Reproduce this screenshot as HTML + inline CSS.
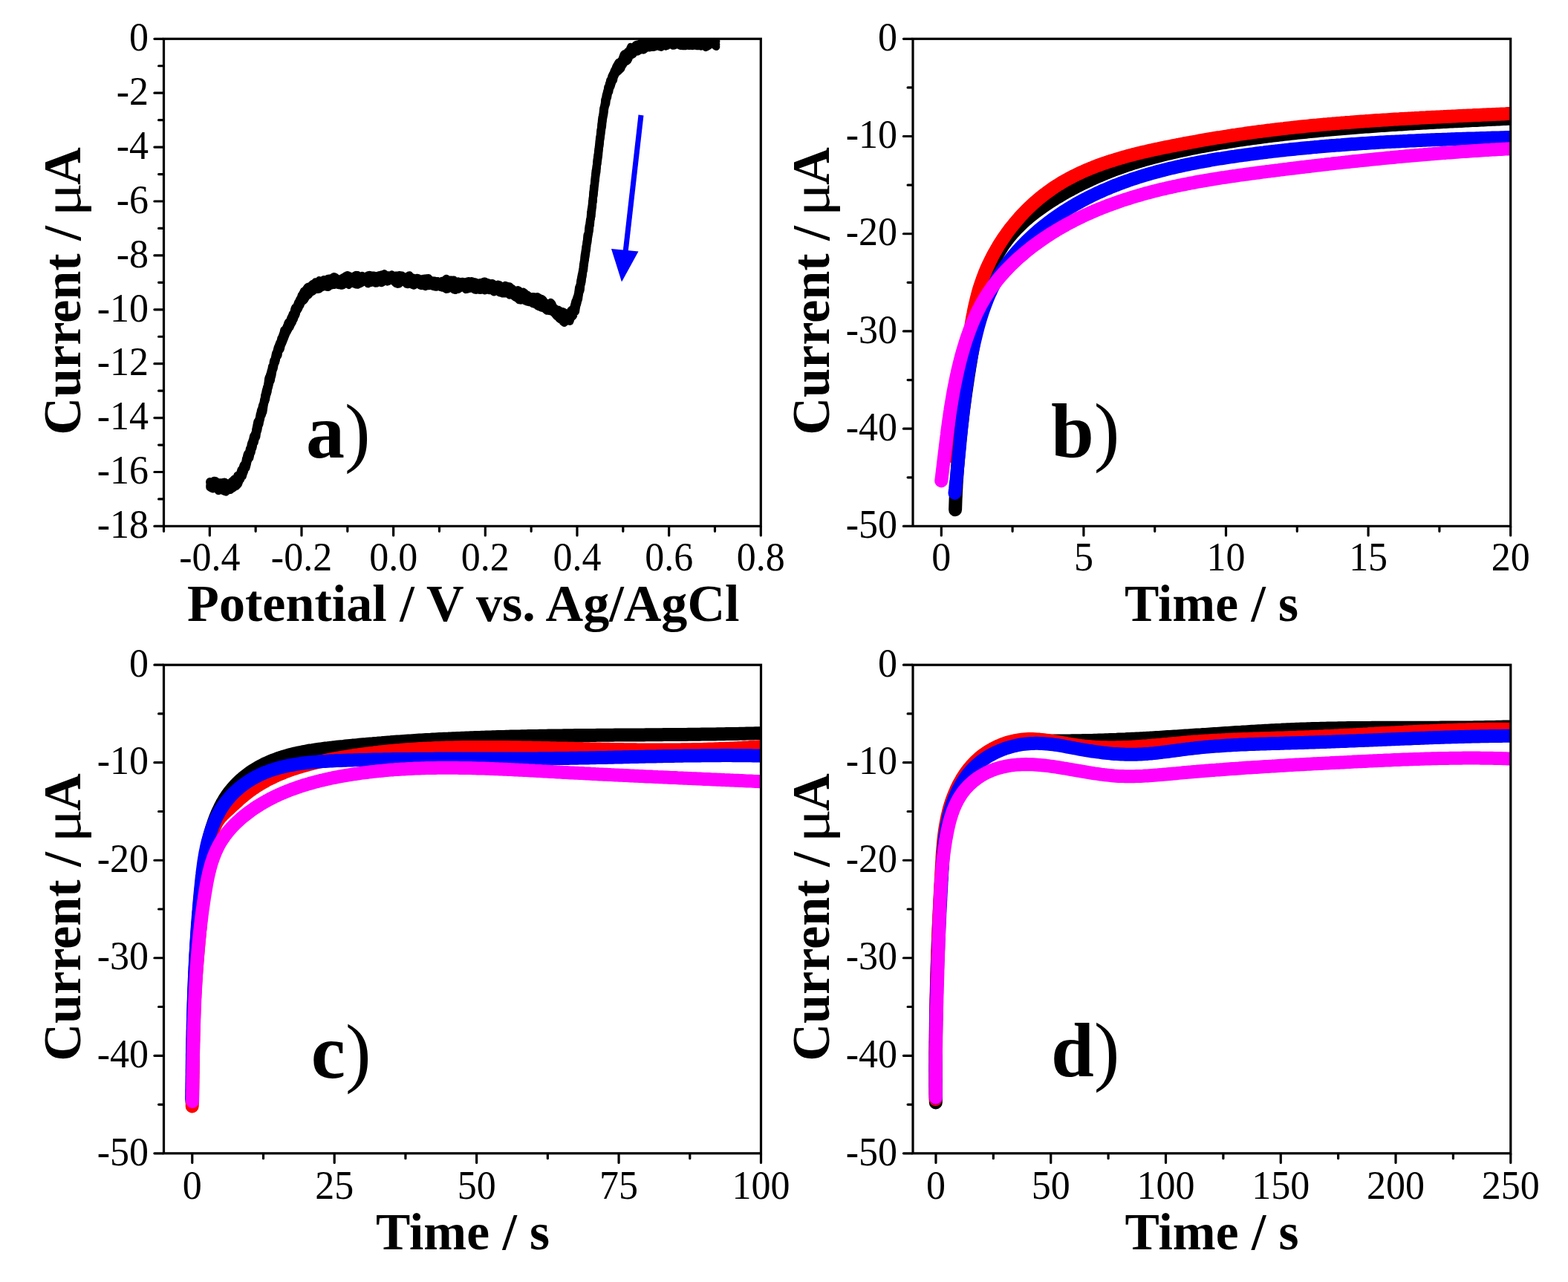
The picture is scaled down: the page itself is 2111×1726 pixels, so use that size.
<!DOCTYPE html>
<html lang="en">
<head>
<meta charset="utf-8">
<title>Figure</title>
<style>
html,body{margin:0;padding:0;background:#fff;}
body{width:2111px;height:1726px;overflow:hidden;}
svg{display:block;}
svg text{font-family:'Liberation Serif', 'Times New Roman', serif;fill:#000;}
.tk{font-size:52.5px;}
.tt{font-size:70px;font-weight:bold;}
.pl{font-size:104px;font-weight:bold;}
.mu,.pr{font-weight:normal;}
.ax{stroke:#000;stroke-width:3.2;fill:none;stroke-linecap:butt;}
.cv{fill:none;stroke-linejoin:round;stroke-linecap:round;}
</style>
</head>
<body>
<svg width="2111" height="1726" viewBox="0 0 2111 1726">
<rect x="0" y="0" width="2111" height="1726" fill="#ffffff"/>
<g id="panel-a">
<defs><clipPath id="clip-a"><rect x="220.5" y="52.3" width="803.8" height="656.1"/></clipPath></defs>
<g clip-path="url(#clip-a)">
<path class="cv" d="M282.5,648.2 L284.4,649.2 L286.3,648.4 L288.2,647.0 L290.2,647.2 L292.1,648.9 L294.1,649.3 L296.1,649.4 L298.1,649.5 L300.1,649.8 L302.1,648.7 L304.1,649.8 L306.1,651.5 L308.0,651.9 L310.0,650.6 L311.8,648.2 L313.6,646.8 L315.3,644.7 L316.8,644.7 L318.2,643.6 L319.5,640.3 L320.7,639.4 L321.8,640.1 L322.9,638.7 L323.9,634.9 L324.8,632.3 L325.7,631.9 L326.5,630.5 L327.4,627.5 L328.2,625.7 L329.0,625.1 L329.7,625.1 L330.5,621.6 L331.2,617.5 L331.9,616.0 L332.6,612.6 L333.3,610.7 L334.0,610.0 L334.7,609.8 L335.3,608.7 L336.0,604.5 L336.6,603.2 L337.3,602.4 L337.9,598.5 L338.5,596.4 L339.1,595.4 L339.7,593.3 L340.3,591.9 L340.9,588.8 L341.4,586.7 L342.0,587.5 L342.5,586.5 L343.0,584.7 L343.6,583.0 L344.1,581.4 L344.6,577.5 L345.1,575.1 L345.7,572.5 L346.2,569.3 L346.7,567.4 L347.3,566.8 L347.8,567.7 L348.4,564.7 L348.9,563.1 L349.4,560.8 L349.9,557.5 L350.5,556.3 L351.0,553.3 L351.5,551.6 L352.0,552.2 L352.6,549.1 L353.1,546.3 L353.6,545.1 L354.1,543.9 L354.6,542.5 L355.1,539.6 L355.5,537.8 L356.0,535.5 L356.5,531.8 L357.0,530.8 L357.5,528.9 L357.9,526.0 L358.4,525.7 L358.9,522.9 L359.4,520.5 L359.9,520.3 L360.4,518.2 L360.8,514.5 L361.3,510.2 L361.8,508.1 L362.3,508.2 L362.8,506.6 L363.3,504.4 L363.8,503.2 L364.3,501.6 L364.8,499.2 L365.3,498.4 L365.8,495.8 L366.3,493.0 L366.8,493.7 L367.4,492.7 L367.9,487.9 L368.5,485.1 L369.0,484.8 L369.6,484.0 L370.1,481.7 L370.7,478.3 L371.3,475.6 L371.9,474.7 L372.5,473.7 L373.1,470.8 L373.7,468.5 L374.4,466.7 L375.0,465.6 L375.7,463.4 L376.4,461.4 L377.0,460.8 L377.8,458.9 L378.5,455.6 L379.2,454.5 L380.0,452.8 L380.8,450.2 L381.6,448.3 L382.4,444.6 L383.3,443.6 L384.1,443.6 L385.0,441.5 L385.9,439.7 L386.8,437.4 L387.6,434.8 L388.5,433.4 L389.4,433.8 L390.3,432.9 L391.2,429.0 L392.1,427.0 L393.0,425.3 L393.9,422.6 L394.8,422.0 L395.7,420.1 L396.5,416.1 L397.3,414.0 L398.1,413.7 L398.9,412.7 L399.7,411.8 L400.5,409.3 L401.4,407.0 L402.2,406.2 L403.1,403.7 L404.0,402.2 L404.9,401.0 L405.8,397.8 L406.8,396.5 L407.9,394.5 L409.0,392.0 L410.2,391.4 L411.4,390.2 L412.8,388.1 L414.2,386.3 L415.8,385.6 L417.5,385.4 L419.2,383.8 L421.0,382.1 L422.8,381.7 L424.6,379.6 L426.4,381.3 L428.3,381.6 L430.1,377.4 L432.0,378.0 L433.9,377.8 L435.9,376.4 L437.8,377.6 L439.8,376.3 L441.8,374.9 L443.7,374.7 L445.7,374.7 L447.7,373.5 L449.7,372.3 L451.7,373.3 L453.7,375.0 L455.6,375.4 L457.6,375.8 L459.6,375.6 L461.6,373.5 L463.6,372.7 L465.6,371.2 L467.6,370.3 L469.6,371.0 L471.6,371.8 L473.6,373.1 L475.6,372.2 L477.6,371.0 L479.5,370.1 L481.5,370.3 L483.5,371.7 L485.5,372.1 L487.5,371.1 L489.5,372.3 L491.5,373.9 L493.5,372.0 L495.5,370.4 L497.5,370.1 L499.5,370.6 L501.5,370.7 L503.5,370.8 L505.5,371.3 L507.5,371.8 L509.5,371.9 L511.5,370.5 L513.5,369.7 L515.5,369.3 L517.4,368.4 L519.4,370.3 L521.4,370.5 L523.4,370.6 L525.4,370.9 L527.4,369.6 L529.4,371.0 L531.4,371.1 L533.4,370.7 L535.4,370.8 L537.4,370.3 L539.3,370.6 L541.3,370.7 L543.3,372.4 L545.3,373.1 L547.3,373.4 L549.3,371.5 L551.2,370.4 L553.2,373.4 L555.2,373.4 L557.2,374.1 L559.2,375.1 L561.2,374.1 L563.2,374.2 L565.1,377.0 L567.1,377.1 L569.1,375.2 L571.1,374.8 L573.1,374.9 L575.1,374.4 L577.1,374.3 L579.1,377.7 L581.1,378.9 L583.1,377.6 L585.0,377.8 L587.0,379.0 L589.0,378.7 L591.0,379.0 L593.0,379.6 L595.0,378.1 L597.0,378.8 L599.0,376.7 L601.0,374.9 L603.0,377.2 L605.0,377.1 L607.0,376.8 L609.0,377.1 L611.0,376.8 L613.0,379.7 L615.0,380.9 L617.0,378.6 L619.0,379.3 L621.0,379.3 L623.0,379.0 L625.0,379.6 L627.0,380.3 L629.0,378.9 L631.0,378.3 L633.0,379.7 L635.0,378.2 L637.0,379.1 L639.0,379.4 L641.0,380.0 L643.0,381.2 L645.0,380.6 L647.0,380.3 L648.9,380.7 L650.9,379.2 L652.9,378.7 L654.9,379.9 L656.9,380.3 L658.9,381.1 L660.9,381.6 L662.9,381.2 L664.8,382.6 L666.8,385.6 L668.8,384.3 L670.7,382.7 L672.7,383.6 L674.6,385.2 L676.5,387.1 L678.4,385.6 L680.3,384.1 L682.2,384.9 L684.1,385.2 L686.0,385.4 L687.8,387.3 L689.7,388.4 L691.6,390.1 L693.5,392.5 L695.3,391.1 L697.2,390.2 L699.0,391.3 L700.9,394.1 L702.8,394.6 L704.6,392.9 L706.5,394.3 L708.4,396.6 L710.2,396.8 L712.1,398.5 L714.0,399.9 L715.9,399.5 L717.8,399.2 L719.7,399.4 L721.6,400.6 L723.5,399.4 L725.4,400.5 L727.2,401.6 L729.1,402.1 L730.9,403.2 L732.7,405.8 L734.5,408.2 L736.3,408.1 L738.1,409.6 L739.8,408.7 L741.5,407.1 L743.2,409.0 L744.8,412.9 L746.4,414.4 L748.0,415.5 L749.6,417.4 L751.2,416.7 L752.8,417.3 L754.4,421.5 L756.1,421.9 L757.8,419.4 L759.7,420.4 L761.7,422.1 L763.7,422.5 L765.5,421.5 L767.2,420.2 L768.7,417.7 L769.9,416.8 L771.0,418.3 L771.9,416.9 L772.8,412.5 L773.6,409.8 L774.3,406.7 L774.9,404.8 L775.5,405.3 L776.0,402.3 L776.5,400.7 L777.0,399.7 L777.5,398.3 L777.9,396.3 L778.4,393.8 L778.9,390.1 L779.3,387.0 L779.7,386.2 L780.1,385.5 L780.5,384.0 L780.9,383.0 L781.2,380.3 L781.6,376.9 L782.0,375.9 L782.3,373.9 L782.7,372.1 L783.0,369.9 L783.4,368.7 L783.7,366.9 L784.1,364.7 L784.4,363.0 L784.7,361.3 L785.0,358.2 L785.3,355.4 L785.6,354.2 L785.9,352.0 L786.2,351.4 L786.5,348.3 L786.8,344.2 L787.1,342.3 L787.4,341.7 L787.7,338.9 L788.0,336.8 L788.3,335.3 L788.6,332.3 L788.9,331.1 L789.1,330.4 L789.4,328.2 L789.7,325.5 L790.0,324.0 L790.2,322.2 L790.5,318.0 L790.8,315.9 L791.1,316.3 L791.4,315.6 L791.7,315.3 L792.0,312.9 L792.3,309.3 L792.6,305.9 L792.9,303.9 L793.2,303.4 L793.5,302.5 L793.8,299.1 L794.1,296.2 L794.4,295.7 L794.6,295.1 L794.9,292.6 L795.2,288.6 L795.4,285.8 L795.7,284.0 L795.9,282.0 L796.2,281.1 L796.4,280.5 L796.6,278.5 L796.9,276.6 L797.1,273.6 L797.3,270.9 L797.6,269.0 L797.8,266.7 L798.0,266.1 L798.2,264.1 L798.5,259.4 L798.7,257.3 L798.9,256.3 L799.1,253.2 L799.3,251.1 L799.6,251.3 L799.8,251.4 L800.0,248.1 L800.2,245.6 L800.4,245.0 L800.7,241.2 L800.9,238.2 L801.1,237.1 L801.3,235.3 L801.6,232.0 L801.8,229.6 L802.1,229.9 L802.3,229.2 L802.5,227.9 L802.8,224.6 L803.0,222.6 L803.3,221.5 L803.5,216.7 L803.7,214.8 L804.0,213.7 L804.2,211.5 L804.5,209.8 L804.7,208.4 L805.0,206.7 L805.2,203.4 L805.5,202.0 L805.7,200.5 L806.0,197.4 L806.2,196.2 L806.5,194.3 L806.7,190.6 L807.0,188.6 L807.2,185.9 L807.5,183.9 L807.7,184.7 L807.9,182.4 L808.2,178.9 L808.4,176.7 L808.7,174.2 L808.9,174.4 L809.1,173.7 L809.4,169.9 L809.6,167.2 L809.9,165.0 L810.1,162.4 L810.4,160.3 L810.6,158.2 L810.9,157.3 L811.2,156.6 L811.5,154.8 L811.8,152.1 L812.1,148.6 L812.4,146.7 L812.7,145.1 L813.0,143.9 L813.4,143.2 L813.7,141.1 L814.1,138.4 L814.4,134.3 L814.8,133.4 L815.2,134.0 L815.6,130.0 L816.1,127.1 L816.5,127.4 L816.9,124.4 L817.4,123.0 L817.9,121.7 L818.4,117.3 L819.0,116.9 L819.5,116.1 L820.1,112.5 L820.8,111.1 L821.4,108.1 L822.1,107.0 L822.8,106.1 L823.5,102.9 L824.2,101.4 L825.0,99.7 L825.8,98.9 L826.6,96.1 L827.5,94.2 L828.4,92.9 L829.4,89.9 L830.4,88.2 L831.5,86.2 L832.6,84.1 L833.7,84.1 L834.9,83.0 L836.1,81.6 L837.3,80.5 L838.5,77.1 L839.8,73.5 L841.0,72.3 L842.3,72.6 L843.6,71.7 L845.0,69.3 L846.4,68.7 L847.8,66.5 L849.3,63.2 L850.8,63.6 L852.4,65.3 L854.1,64.4 L855.7,60.5 L857.4,59.7 L859.2,60.1 L861.0,59.5 L862.8,57.7 L864.6,55.5 L866.5,55.3 L868.4,55.7 L870.4,56.4 L872.3,57.4 L874.3,55.0 L876.2,52.4 L878.2,52.7 L880.2,52.6 L882.2,52.9 L884.2,53.3 L886.2,52.9 L888.2,53.5 L890.2,53.1 L892.1,51.0 L894.1,49.7 L896.1,49.7 L898.1,50.0 L900.1,49.3 L902.1,50.7 L904.1,52.4 L906.1,51.5 L908.1,50.6 L910.1,49.6 L912.1,49.7 L914.1,52.6 L916.1,51.6 L918.1,50.2 L920.1,52.8 L922.1,52.9 L924.1,52.0 L926.1,52.6 L928.1,51.9 L930.1,51.7 L932.1,53.9 L934.1,52.5 L936.1,50.5 L938.1,51.5 L940.1,53.0 L942.1,53.9 L944.1,53.6 L946.1,51.8 L948.1,50.3 L950.1,51.0 L952.1,52.3 L954.1,51.1 L956.1,50.8 L958.1,52.0 L960.1,52.9 L962.1,51.7 L964.1,51.3" stroke="#000000" stroke-width="10.5"/>
<path class="cv" d="M282.5,649.9 L284.4,651.0 L286.3,650.7 L288.2,651.4 L290.2,652.4 L292.1,650.9 L294.1,651.0 L296.1,653.1 L298.1,654.1 L300.1,652.7 L302.1,653.0 L304.1,653.9 L306.1,653.5 L308.0,653.5 L310.0,651.7 L311.8,651.0 L313.6,650.6 L315.3,650.5 L316.8,650.3 L318.2,647.6 L319.5,644.6 L320.7,643.0 L321.8,642.4 L322.9,639.6 L323.9,639.6 L324.8,639.2 L325.7,636.9 L326.5,633.8 L327.4,632.0 L328.2,629.9 L329.0,626.2 L329.7,625.9 L330.5,624.7 L331.2,620.3 L331.9,617.5 L332.6,618.3 L333.3,619.2 L334.0,617.4 L334.7,613.5 L335.3,611.5 L336.0,608.9 L336.6,606.7 L337.3,604.6 L337.9,602.3 L338.5,601.4 L339.1,600.2 L339.7,598.2 L340.3,596.6 L340.9,594.8 L341.4,592.5 L342.0,591.4 L342.5,587.2 L343.0,584.7 L343.6,584.3 L344.1,581.7 L344.6,579.9 L345.1,577.4 L345.7,575.8 L346.2,575.5 L346.7,573.4 L347.3,573.1 L347.8,571.3 L348.4,567.3 L348.9,564.4 L349.4,562.7 L349.9,560.6 L350.5,559.5 L351.0,557.8 L351.5,554.9 L352.0,555.2 L352.6,554.2 L353.1,550.8 L353.6,549.0 L354.1,546.8 L354.6,544.4 L355.1,542.5 L355.5,539.1 L356.0,537.5 L356.5,537.1 L357.0,534.5 L357.5,530.9 L357.9,528.8 L358.4,525.8 L358.9,523.7 L359.4,522.9 L359.9,523.2 L360.4,521.7 L360.8,516.7 L361.3,516.0 L361.8,515.2 L362.3,512.6 L362.8,511.0 L363.3,509.2 L363.8,506.7 L364.3,505.4 L364.8,504.3 L365.3,501.1 L365.8,498.6 L366.3,496.3 L366.8,494.7 L367.4,494.2 L367.9,492.6 L368.5,490.6 L369.0,488.0 L369.6,486.9 L370.1,484.9 L370.7,481.7 L371.3,479.6 L371.9,477.8 L372.5,476.0 L373.1,475.7 L373.7,474.4 L374.4,469.3 L375.0,466.7 L375.7,465.0 L376.4,464.3 L377.0,464.8 L377.8,461.8 L378.5,459.3 L379.2,457.6 L380.0,455.6 L380.8,455.4 L381.6,452.9 L382.4,448.6 L383.3,447.7 L384.1,447.4 L385.0,445.5 L385.9,444.2 L386.8,441.2 L387.6,436.9 L388.5,436.6 L389.4,436.1 L390.3,432.4 L391.2,430.0 L392.1,430.2 L393.0,429.5 L393.9,427.0 L394.8,425.8 L395.7,423.2 L396.5,419.7 L397.3,417.7 L398.1,415.9 L398.9,414.5 L399.7,412.9 L400.5,411.3 L401.4,409.9 L402.2,408.0 L403.1,407.1 L404.0,406.6 L404.9,405.5 L405.8,402.7 L406.8,399.8 L407.9,397.6 L409.0,396.6 L410.2,396.7 L411.4,393.8 L412.8,391.7 L414.2,390.6 L415.8,388.5 L417.5,387.9 L419.2,386.7 L421.0,386.3 L422.8,384.5 L424.6,382.3 L426.4,382.7 L428.3,381.6 L430.1,381.3 L432.0,380.3 L433.9,379.5 L435.9,379.0 L437.8,378.4 L439.8,379.7 L441.8,381.3 L443.7,381.5 L445.7,380.7 L447.7,379.6 L449.7,379.8 L451.7,379.3 L453.7,377.0 L455.6,375.9 L457.6,376.1 L459.6,377.9 L461.6,376.9 L463.6,375.5 L465.6,375.5 L467.6,375.4 L469.6,375.1 L471.6,374.0 L473.6,375.5 L475.6,374.9 L477.6,372.7 L479.5,374.6 L481.5,376.1 L483.5,375.5 L485.5,374.3 L487.5,374.4 L489.5,374.3 L491.5,374.9 L493.5,374.6 L495.5,372.9 L497.5,372.8 L499.5,373.6 L501.5,374.9 L503.5,376.0 L505.5,374.4 L507.5,371.6 L509.5,370.6 L511.5,373.4 L513.5,374.1 L515.5,372.6 L517.4,374.4 L519.4,373.5 L521.4,371.7 L523.4,371.9 L525.4,371.3 L527.4,372.6 L529.4,374.7 L531.4,372.6 L533.4,372.8 L535.4,374.5 L537.4,374.0 L539.3,374.6 L541.3,373.6 L543.3,373.4 L545.3,373.9 L547.3,376.1 L549.3,379.0 L551.2,377.7 L553.2,375.1 L555.2,376.3 L557.2,377.4 L559.2,378.1 L561.2,380.2 L563.2,380.3 L565.1,378.6 L567.1,376.5 L569.1,376.5 L571.1,377.5 L573.1,377.5 L575.1,378.8 L577.1,380.3 L579.1,379.5 L581.1,378.8 L583.1,379.5 L585.0,381.2 L587.0,379.2 L589.0,378.4 L591.0,379.9 L593.0,379.2 L595.0,379.3 L597.0,380.2 L599.0,382.2 L601.0,382.2 L603.0,380.4 L605.0,379.4 L607.0,380.5 L609.0,381.0 L611.0,380.3 L613.0,381.7 L615.0,381.9 L617.0,381.1 L619.0,381.0 L621.0,382.2 L623.0,382.4 L625.0,381.9 L627.0,382.4 L629.0,382.0 L631.0,382.1 L633.0,382.2 L635.0,383.0 L637.0,383.7 L639.0,381.4 L641.0,380.9 L643.0,383.4 L645.0,383.5 L647.0,382.3 L648.9,383.5 L650.9,383.1 L652.9,382.5 L654.9,384.2 L656.9,385.1 L658.9,383.9 L660.9,382.4 L662.9,384.8 L664.8,385.6 L666.8,384.6 L668.8,387.7 L670.7,387.8 L672.7,384.3 L674.6,387.6 L676.5,390.9 L678.4,389.4 L680.3,391.6 L682.2,391.8 L684.1,391.4 L686.0,392.2 L687.8,391.4 L689.7,392.6 L691.6,394.3 L693.5,395.5 L695.3,396.5 L697.2,395.7 L699.0,395.4 L700.9,398.2 L702.8,399.5 L704.6,398.7 L706.5,400.1 L708.4,401.9 L710.2,402.5 L712.1,401.5 L714.0,400.7 L715.9,402.4 L717.8,404.4 L719.7,403.4 L721.6,402.6 L723.5,404.1 L725.4,406.0 L727.2,406.0 L729.1,408.2 L730.9,410.0 L732.7,409.1 L734.5,411.8 L736.3,412.7 L738.1,412.5 L739.8,412.8 L741.5,413.6 L743.2,414.0 L744.8,414.6 L746.4,416.8 L748.0,417.2 L749.6,419.2 L751.2,421.6 L752.8,420.4 L754.4,421.9 L756.1,423.8 L757.8,424.5 L759.7,425.3 L761.7,424.9 L763.7,425.9 L765.5,427.1 L767.2,424.4 L768.7,421.1 L769.9,420.6 L771.0,420.1 L771.9,418.4 L772.8,416.0 L773.6,415.5 L774.3,413.9 L774.9,410.6 L775.5,407.6 L776.0,405.8 L776.5,404.4 L777.0,401.9 L777.5,399.8 L777.9,399.1 L778.4,396.8 L778.9,394.0 L779.3,392.6 L779.7,391.8 L780.1,388.4 L780.5,385.0 L780.9,385.2 L781.2,384.1 L781.6,380.1 L782.0,378.2 L782.3,378.5 L782.7,375.9 L783.0,371.8 L783.4,370.2 L783.7,370.4 L784.1,368.0 L784.4,365.2 L784.7,364.6 L785.0,362.7 L785.3,359.6 L785.6,357.6 L785.9,356.1 L786.2,354.2 L786.5,352.5 L786.8,349.9 L787.1,346.1 L787.4,344.6 L787.7,344.0 L788.0,339.7 L788.3,337.8 L788.6,337.8 L788.9,335.7 L789.1,331.4 L789.4,329.0 L789.7,328.2 L790.0,326.6 L790.2,323.5 L790.5,322.0 L790.8,322.4 L791.1,320.7 L791.4,318.2 L791.7,315.7 L792.0,314.6 L792.3,313.1 L792.6,309.9 L792.9,307.8 L793.2,306.8 L793.5,305.5 L793.8,303.4 L794.1,299.7 L794.4,296.9 L794.6,295.8 L794.9,294.5 L795.2,293.2 L795.4,289.4 L795.7,285.9 L795.9,284.5 L796.2,284.1 L796.4,283.7 L796.6,281.1 L796.9,279.1 L797.1,276.4 L797.3,274.2 L797.6,272.7 L797.8,270.4 L798.0,268.2 L798.2,267.0 L798.5,266.0 L798.7,262.0 L798.9,258.6 L799.1,257.9 L799.3,256.9 L799.6,253.5 L799.8,250.2 L800.0,249.3 L800.2,249.6 L800.4,247.1 L800.7,243.3 L800.9,242.0 L801.1,240.3 L801.3,238.5 L801.6,236.5 L801.8,234.3 L802.1,232.5 L802.3,230.9 L802.5,229.0 L802.8,227.2 L803.0,223.9 L803.3,221.7 L803.5,220.8 L803.7,219.4 L804.0,217.8 L804.2,216.5 L804.5,213.2 L804.7,209.8 L805.0,208.7 L805.2,206.3 L805.5,203.9 L805.7,202.2 L806.0,200.0 L806.2,200.2 L806.5,198.6 L806.7,195.9 L807.0,193.3 L807.2,190.3 L807.5,188.5 L807.7,186.6 L807.9,186.5 L808.2,185.9 L808.4,183.2 L808.7,180.0 L808.9,177.3 L809.1,175.3 L809.4,174.4 L809.6,170.7 L809.9,167.4 L810.1,165.9 L810.4,165.0 L810.6,162.8 L810.9,160.7 L811.2,158.8 L811.5,155.2 L811.8,155.5 L812.1,155.3 L812.4,151.3 L812.7,147.0 L813.0,145.0 L813.4,144.9 L813.7,143.7 L814.1,140.5 L814.4,139.0 L814.8,139.0 L815.2,135.6 L815.6,132.4 L816.1,130.8 L816.5,129.8 L816.9,128.6 L817.4,125.2 L817.9,121.8 L818.4,121.0 L819.0,120.2 L819.5,117.8 L820.1,116.0 L820.8,114.3 L821.4,111.1 L822.1,108.2 L822.8,108.1 L823.5,108.4 L824.2,106.5 L825.0,103.1 L825.8,100.5 L826.6,98.1 L827.5,96.7 L828.4,94.8 L829.4,93.4 L830.4,92.3 L831.5,92.2 L832.6,90.4 L833.7,88.0 L834.9,86.1 L836.1,84.4 L837.3,85.2 L838.5,82.4 L839.8,77.8 L841.0,77.6 L842.3,77.1 L843.6,74.5 L845.0,73.4 L846.4,72.4 L847.8,71.7 L849.3,70.5 L850.8,67.7 L852.4,65.2 L854.1,63.0 L855.7,62.0 L857.4,63.3 L859.2,62.0 L861.0,60.2 L862.8,61.6 L864.6,61.3 L866.5,60.9 L868.4,60.4 L870.4,59.9 L872.3,58.4 L874.3,56.0 L876.2,57.7 L878.2,58.4 L880.2,56.5 L882.2,55.5 L884.2,56.6 L886.2,57.3 L888.2,56.3 L890.2,55.2 L892.1,54.8 L894.1,54.9 L896.1,54.7 L898.1,55.3 L900.1,54.9 L902.1,53.8 L904.1,54.9 L906.1,54.7 L908.1,55.3 L910.1,57.5 L912.1,55.2 L914.1,55.3 L916.1,55.8 L918.1,55.7 L920.1,55.9 L922.1,55.5 L924.1,55.2 L926.1,55.1 L928.1,56.1 L930.1,56.8 L932.1,57.4 L934.1,55.3 L936.1,54.9 L938.1,55.0 L940.1,54.8 L942.1,56.7 L944.1,57.8 L946.1,56.6 L948.1,54.5 L950.1,54.4 L952.1,56.8 L954.1,56.6 L956.1,53.6 L958.1,52.6 L960.1,52.8 L962.1,54.9 L964.1,55.6" stroke="#000000" stroke-width="10.5"/>
<path class="cv" d="M282.5,653.5 L284.4,653.8 L286.3,656.1 L288.2,656.8 L290.2,655.3 L292.1,657.2 L294.1,656.7 L296.1,655.1 L298.1,656.2 L300.1,656.5 L302.1,655.3 L304.1,655.4 L306.1,656.0 L308.0,656.3 L310.0,654.7 L311.8,652.8 L313.6,654.4 L315.3,655.4 L316.8,651.9 L318.2,649.4 L319.5,648.3 L320.7,645.5 L321.8,643.9 L322.9,642.6 L323.9,642.4 L324.8,641.6 L325.7,639.0 L326.5,636.3 L327.4,634.4 L328.2,632.8 L329.0,631.7 L329.7,629.4 L330.5,626.8 L331.2,625.4 L331.9,623.5 L332.6,621.9 L333.3,620.3 L334.0,619.3 L334.7,617.2 L335.3,615.5 L336.0,613.4 L336.6,609.8 L337.3,608.2 L337.9,607.0 L338.5,605.3 L339.1,604.2 L339.7,603.0 L340.3,600.4 L340.9,597.2 L341.4,594.8 L342.0,594.4 L342.5,592.7 L343.0,588.5 L343.6,585.8 L344.1,584.5 L344.6,584.1 L345.1,582.6 L345.7,581.6 L346.2,580.3 L346.7,576.6 L347.3,573.7 L347.8,572.5 L348.4,570.7 L348.9,567.3 L349.4,566.1 L349.9,564.8 L350.5,563.4 L351.0,561.4 L351.5,556.1 L352.0,554.9 L352.6,553.8 L353.1,552.5 L353.6,553.7 L354.1,550.1 L354.6,545.6 L355.1,542.8 L355.5,542.6 L356.0,541.7 L356.5,538.5 L357.0,536.5 L357.5,536.9 L357.9,535.4 L358.4,532.3 L358.9,530.8 L359.4,529.1 L359.9,527.4 L360.4,524.0 L360.8,520.9 L361.3,519.0 L361.8,516.6 L362.3,516.3 L362.8,514.5 L363.3,511.5 L363.8,509.4 L364.3,507.1 L364.8,506.4 L365.3,504.6 L365.8,501.6 L366.3,500.4 L366.8,499.3 L367.4,497.6 L367.9,495.4 L368.5,491.4 L369.0,489.8 L369.6,489.8 L370.1,488.2 L370.7,485.2 L371.3,484.5 L371.9,482.3 L372.5,478.9 L373.1,478.0 L373.7,475.1 L374.4,473.9 L375.0,472.2 L375.7,467.6 L376.4,465.0 L377.0,465.5 L377.8,466.5 L378.5,463.0 L379.2,459.2 L380.0,459.8 L380.8,458.5 L381.6,455.2 L382.4,451.6 L383.3,448.6 L384.1,447.4 L385.0,446.8 L385.9,443.7 L386.8,440.8 L387.6,441.2 L388.5,440.4 L389.4,437.8 L390.3,436.0 L391.2,434.1 L392.1,433.5 L393.0,433.8 L393.9,433.0 L394.8,430.4 L395.7,427.5 L396.5,426.3 L397.3,425.3 L398.1,423.5 L398.9,421.2 L399.7,417.6 L400.5,413.4 L401.4,412.8 L402.2,412.3 L403.1,409.7 L404.0,407.2 L404.9,404.4 L405.8,404.6 L406.8,404.3 L407.9,400.5 L409.0,398.8 L410.2,398.4 L411.4,396.9 L412.8,397.1 L414.2,395.3 L415.8,391.1 L417.5,390.0 L419.2,389.5 L421.0,389.0 L422.8,388.9 L424.6,387.8 L426.4,386.4 L428.3,385.7 L430.1,385.0 L432.0,384.5 L433.9,384.1 L435.9,382.2 L437.8,382.4 L439.8,382.4 L441.8,382.8 L443.7,383.5 L445.7,382.4 L447.7,381.9 L449.7,381.2 L451.7,378.8 L453.7,379.7 L455.6,380.8 L457.6,380.3 L459.6,380.3 L461.6,379.1 L463.6,379.3 L465.6,378.3 L467.6,378.2 L469.6,379.3 L471.6,378.9 L473.6,377.3 L475.6,377.0 L477.6,378.1 L479.5,379.5 L481.5,379.8 L483.5,379.0 L485.5,377.3 L487.5,377.7 L489.5,378.5 L491.5,377.4 L493.5,378.1 L495.5,378.7 L497.5,378.2 L499.5,376.6 L501.5,375.5 L503.5,374.8 L505.5,375.3 L507.5,376.6 L509.5,377.0 L511.5,377.0 L513.5,375.7 L515.5,377.2 L517.4,376.5 L519.4,373.6 L521.4,374.0 L523.4,375.7 L525.4,376.0 L527.4,375.4 L529.4,375.0 L531.4,376.8 L533.4,377.5 L535.4,375.6 L537.4,376.3 L539.3,376.7 L541.3,376.9 L543.3,378.9 L545.3,379.0 L547.3,378.1 L549.3,378.4 L551.2,378.5 L553.2,379.8 L555.2,380.7 L557.2,379.9 L559.2,378.9 L561.2,379.3 L563.2,381.0 L565.1,381.4 L567.1,380.8 L569.1,379.5 L571.1,380.6 L573.1,381.1 L575.1,379.4 L577.1,380.5 L579.1,381.9 L581.1,382.4 L583.1,381.9 L585.0,381.8 L587.0,382.1 L589.0,381.0 L591.0,381.4 L593.0,382.5 L595.0,383.2 L597.0,383.8 L599.0,384.4 L601.0,385.2 L603.0,385.3 L605.0,385.8 L607.0,385.7 L609.0,384.6 L611.0,385.3 L613.0,384.7 L615.0,383.6 L617.0,385.3 L619.0,385.1 L621.0,385.1 L623.0,384.8 L625.0,383.8 L627.0,385.1 L629.0,386.2 L631.0,386.9 L633.0,386.3 L635.0,385.6 L637.0,386.3 L639.0,386.6 L641.0,385.0 L643.0,384.2 L645.0,386.7 L647.0,386.2 L648.9,385.7 L650.9,386.6 L652.9,387.1 L654.9,387.0 L656.9,386.4 L658.9,385.6 L660.9,385.8 L662.9,388.7 L664.8,387.8 L666.8,388.2 L668.8,389.3 L670.7,388.7 L672.7,387.4 L674.6,388.8 L676.5,391.0 L678.4,390.3 L680.3,390.6 L682.2,390.8 L684.1,393.6 L686.0,394.7 L687.8,395.1 L689.7,396.1 L691.6,396.3 L693.5,396.8 L695.3,397.6 L697.2,400.9 L699.0,401.8 L700.9,400.8 L702.8,400.6 L704.6,401.8 L706.5,404.0 L708.4,402.4 L710.2,400.8 L712.1,404.7 L714.0,406.8 L715.9,405.8 L717.8,406.5 L719.7,408.0 L721.6,408.8 L723.5,408.4 L725.4,410.1 L727.2,411.1 L729.1,409.3 L730.9,409.7 L732.7,411.1 L734.5,412.2 L736.3,413.0 L738.1,414.6 L739.8,413.0 L741.5,413.1 L743.2,417.8 L744.8,420.1 L746.4,419.9 L748.0,420.1 L749.6,422.8 L751.2,424.3 L752.8,424.1 L754.4,427.1 L756.1,428.4 L757.8,428.2 L759.7,429.2 L761.7,429.1 L763.7,428.2 L765.5,426.8 L767.2,427.6 L768.7,426.0 L769.9,423.6 L771.0,421.8 L771.9,419.6 L772.8,418.8 L773.6,415.8 L774.3,414.9 L774.9,414.2 L775.5,412.4 L776.0,409.8 L776.5,407.6 L777.0,408.5 L777.5,405.9 L777.9,401.5 L778.4,399.8 L778.9,398.5 L779.3,395.9 L779.7,393.8 L780.1,391.5 L780.5,390.0 L780.9,388.2 L781.2,385.1 L781.6,384.2 L782.0,382.8 L782.3,382.4 L782.7,380.4 L783.0,375.5 L783.4,373.3 L783.7,372.3 L784.1,370.2 L784.4,366.8 L784.7,366.8 L785.0,364.9 L785.3,362.8 L785.6,362.0 L785.9,357.8 L786.2,357.1 L786.5,355.9 L786.8,351.6 L787.1,349.9 L787.4,349.8 L787.7,348.4 L788.0,346.0 L788.3,344.9 L788.6,342.4 L788.9,339.3 L789.1,336.9 L789.4,333.4 L789.7,331.5 L790.0,332.1 L790.2,328.8 L790.5,326.6 L790.8,326.3 L791.1,322.4 L791.4,320.3 L791.7,320.6 L792.0,318.0 L792.3,315.2 L792.6,314.7 L792.9,311.3 L793.2,308.9 L793.5,308.1 L793.8,305.2 L794.1,303.4 L794.4,301.5 L794.6,298.4 L794.9,295.7 L795.2,294.5 L795.4,293.2 L795.7,290.4 L795.9,287.9 L796.2,285.2 L796.4,283.5 L796.6,283.3 L796.9,281.3 L797.1,279.9 L797.3,279.0 L797.6,275.9 L797.8,272.5 L798.0,272.1 L798.2,269.9 L798.5,266.7 L798.7,267.4 L798.9,264.7 L799.1,260.7 L799.3,258.9 L799.6,258.3 L799.8,257.5 L800.0,255.2 L800.2,251.2 L800.4,248.1 L800.7,247.2 L800.9,244.7 L801.1,242.3 L801.3,243.3 L801.6,240.6 L801.8,237.7 L802.1,235.8 L802.3,232.6 L802.5,231.3 L802.8,228.4 L803.0,226.3 L803.3,226.7 L803.5,225.4 L803.7,223.0 L804.0,219.7 L804.2,217.0 L804.5,215.8 L804.7,214.6 L805.0,213.5 L805.2,210.1 L805.5,208.5 L805.7,207.1 L806.0,203.4 L806.2,200.7 L806.5,198.8 L806.7,197.7 L807.0,194.7 L807.2,192.7 L807.5,191.8 L807.7,189.8 L807.9,188.3 L808.2,185.8 L808.4,183.9 L808.7,182.7 L808.9,180.2 L809.1,176.8 L809.4,174.6 L809.6,174.2 L809.9,172.9 L810.1,169.9 L810.4,168.3 L810.6,166.4 L810.9,164.4 L811.2,163.8 L811.5,160.1 L811.8,159.5 L812.1,157.1 L812.4,153.1 L812.7,152.4 L813.0,151.0 L813.4,149.0 L813.7,147.3 L814.1,145.5 L814.4,142.9 L814.8,139.8 L815.2,137.5 L815.6,137.1 L816.1,134.4 L816.5,131.8 L816.9,129.1 L817.4,126.5 L817.9,124.9 L818.4,124.6 L819.0,122.5 L819.5,119.3 L820.1,119.6 L820.8,118.4 L821.4,116.6 L822.1,115.1 L822.8,112.9 L823.5,110.9 L824.2,108.6 L825.0,106.0 L825.8,102.7 L826.6,101.1 L827.5,101.8 L828.4,99.3 L829.4,95.5 L830.4,94.5 L831.5,94.7 L832.6,94.0 L833.7,90.1 L834.9,87.8 L836.1,86.9 L837.3,85.2 L838.5,82.3 L839.8,81.3 L841.0,81.3 L842.3,79.2 L843.6,77.8 L845.0,75.3 L846.4,74.5 L847.8,73.6 L849.3,71.2 L850.8,70.9 L852.4,70.2 L854.1,67.9 L855.7,67.6 L857.4,66.7 L859.2,64.9 L861.0,65.1 L862.8,65.1 L864.6,64.8 L866.5,64.7 L868.4,63.1 L870.4,60.5 L872.3,61.4 L874.3,62.8 L876.2,60.8 L878.2,59.9 L880.2,59.6 L882.2,57.4 L884.2,58.4 L886.2,59.9 L888.2,59.0 L890.2,60.0 L892.1,61.0 L894.1,59.0 L896.1,56.8 L898.1,55.7 L900.1,56.6 L902.1,57.8 L904.1,58.1 L906.1,58.4 L908.1,57.5 L910.1,57.2 L912.1,56.5 L914.1,58.0 L916.1,58.9 L918.1,58.4 L920.1,58.4 L922.1,58.0 L924.1,59.1 L926.1,58.9 L928.1,57.7 L930.1,59.9 L932.1,60.4 L934.1,58.8 L936.1,58.9 L938.1,57.7 L940.1,58.9 L942.1,59.8 L944.1,58.9 L946.1,56.6 L948.1,56.5 L950.1,59.1 L952.1,59.1 L954.1,58.2 L956.1,59.0 L958.1,59.3 L960.1,58.8 L962.1,59.5 L964.1,59.8" stroke="#000000" stroke-width="10.5"/>
<path class="cv" d="M282.5,656.0 L284.4,657.2 L286.3,658.3 L288.2,657.5 L290.2,655.7 L292.1,657.7 L294.1,661.0 L296.1,659.2 L298.1,659.8 L300.1,660.8 L302.1,661.7 L304.1,662.5 L306.1,659.9 L308.0,660.1 L310.0,659.9 L311.8,658.3 L313.6,657.3 L315.3,656.0 L316.8,655.2 L318.2,654.6 L319.5,652.8 L320.7,652.1 L321.8,649.0 L322.9,645.3 L323.9,645.4 L324.8,643.0 L325.7,641.9 L326.5,641.7 L327.4,638.4 L328.2,636.4 L329.0,634.2 L329.7,630.7 L330.5,630.0 L331.2,630.2 L331.9,627.7 L332.6,625.0 L333.3,621.3 L334.0,618.7 L334.7,618.2 L335.3,617.2 L336.0,616.9 L336.6,614.4 L337.3,610.7 L337.9,610.0 L338.5,608.7 L339.1,604.8 L339.7,604.0 L340.3,602.5 L340.9,599.1 L341.4,597.0 L342.0,595.9 L342.5,595.8 L343.0,593.2 L343.6,590.7 L344.1,588.7 L344.6,588.4 L345.1,588.2 L345.7,583.7 L346.2,581.0 L346.7,580.4 L347.3,578.3 L347.8,575.0 L348.4,572.5 L348.9,571.9 L349.4,570.5 L349.9,567.2 L350.5,565.3 L351.0,563.2 L351.5,559.1 L352.0,558.2 L352.6,558.8 L353.1,557.1 L353.6,555.6 L354.1,554.8 L354.6,551.9 L355.1,548.0 L355.5,545.7 L356.0,543.1 L356.5,541.1 L357.0,540.3 L357.5,538.6 L357.9,537.6 L358.4,533.7 L358.9,531.5 L359.4,530.9 L359.9,529.0 L360.4,527.7 L360.8,524.2 L361.3,522.8 L361.8,521.2 L362.3,518.9 L362.8,517.1 L363.3,514.3 L363.8,513.0 L364.3,513.1 L364.8,511.6 L365.3,508.0 L365.8,506.9 L366.3,505.0 L366.8,501.5 L367.4,498.7 L367.9,497.1 L368.5,496.1 L369.0,493.5 L369.6,489.9 L370.1,488.4 L370.7,488.2 L371.3,486.1 L371.9,483.2 L372.5,480.8 L373.1,479.3 L373.7,479.4 L374.4,478.1 L375.0,473.6 L375.7,472.2 L376.4,471.3 L377.0,470.9 L377.8,469.1 L378.5,465.2 L379.2,463.8 L380.0,462.2 L380.8,460.3 L381.6,458.2 L382.4,456.2 L383.3,453.9 L384.1,451.9 L385.0,449.6 L385.9,447.7 L386.8,446.3 L387.6,444.6 L388.5,443.0 L389.4,441.4 L390.3,440.4 L391.2,438.5 L392.1,436.4 L393.0,435.1 L393.9,433.0 L394.8,430.8 L395.7,429.6 L396.5,426.5 L397.3,424.9 L398.1,424.1 L398.9,418.6 L399.7,417.6 L400.5,417.9 L401.4,416.4 L402.2,414.8 L403.1,412.0 L404.0,411.6 L404.9,409.3 L405.8,406.1 L406.8,405.0 L407.9,405.3 L409.0,404.7 L410.2,403.1 L411.4,400.9 L412.8,398.7 L414.2,397.9 L415.8,396.8 L417.5,394.1 L419.2,393.2 L421.0,392.6 L422.8,390.3 L424.6,390.0 L426.4,389.8 L428.3,389.7 L430.1,389.3 L432.0,387.5 L433.9,386.7 L435.9,386.0 L437.8,385.4 L439.8,386.6 L441.8,386.8 L443.7,385.2 L445.7,384.3 L447.7,383.8 L449.7,383.7 L451.7,382.7 L453.7,383.1 L455.6,383.9 L457.6,383.8 L459.6,384.6 L461.6,384.1 L463.6,382.2 L465.6,380.7 L467.6,382.1 L469.6,383.7 L471.6,381.6 L473.6,379.9 L475.6,381.9 L477.6,382.6 L479.5,383.3 L481.5,383.5 L483.5,382.5 L485.5,381.8 L487.5,380.6 L489.5,379.3 L491.5,377.3 L493.5,379.3 L495.5,382.2 L497.5,380.7 L499.5,380.8 L501.5,379.8 L503.5,380.1 L505.5,381.6 L507.5,381.4 L509.5,379.4 L511.5,379.0 L513.5,381.0 L515.5,380.0 L517.4,378.4 L519.4,378.4 L521.4,379.4 L523.4,378.6 L525.4,377.4 L527.4,377.2 L529.4,378.1 L531.4,380.2 L533.4,381.9 L535.4,382.7 L537.4,382.3 L539.3,379.9 L541.3,379.1 L543.3,379.6 L545.3,380.2 L547.3,382.6 L549.3,383.0 L551.2,381.7 L553.2,382.6 L555.2,383.8 L557.2,384.4 L559.2,383.2 L561.2,381.9 L563.2,382.5 L565.1,384.1 L567.1,384.9 L569.1,383.7 L571.1,385.3 L573.1,385.9 L575.1,384.4 L577.1,385.0 L579.1,384.6 L581.1,384.8 L583.1,385.7 L585.0,386.2 L587.0,386.6 L589.0,386.0 L591.0,385.1 L593.0,386.7 L595.0,387.4 L597.0,387.5 L599.0,388.2 L601.0,389.7 L603.0,389.3 L605.0,385.7 L607.0,385.6 L609.0,388.2 L611.0,390.1 L613.0,390.7 L615.0,389.7 L617.0,389.7 L619.0,388.4 L621.0,386.6 L623.0,386.8 L625.0,387.9 L627.0,389.9 L629.0,389.5 L631.0,388.9 L633.0,388.6 L635.0,388.0 L637.0,388.6 L639.0,390.3 L641.0,390.7 L643.0,389.9 L645.0,390.6 L647.0,390.8 L648.9,389.4 L650.9,390.5 L652.9,391.2 L654.9,390.0 L656.9,390.3 L658.9,391.0 L660.9,391.1 L662.9,391.2 L664.8,393.2 L666.8,392.5 L668.8,389.9 L670.7,392.1 L672.7,394.3 L674.6,394.4 L676.5,395.3 L678.4,395.0 L680.3,395.2 L682.2,394.7 L684.1,395.1 L686.0,397.4 L687.8,397.1 L689.7,397.1 L691.6,398.7 L693.5,400.3 L695.3,401.0 L697.2,402.6 L699.0,404.1 L700.9,404.4 L702.8,403.0 L704.6,402.7 L706.5,405.1 L708.4,405.8 L710.2,406.5 L712.1,407.0 L714.0,406.7 L715.9,407.8 L717.8,409.2 L719.7,409.6 L721.6,410.1 L723.5,411.9 L725.4,413.0 L727.2,413.6 L729.1,414.5 L730.9,414.7 L732.7,414.8 L734.5,417.1 L736.3,418.4 L738.1,418.5 L739.8,418.9 L741.5,418.1 L743.2,418.7 L744.8,420.8 L746.4,422.0 L748.0,424.1 L749.6,425.9 L751.2,426.0 L752.8,429.0 L754.4,430.3 L756.1,429.7 L757.8,433.1 L759.7,434.6 L761.7,432.8 L763.7,432.0 L765.5,432.3 L767.2,432.6 L768.7,428.2 L769.9,425.6 L771.0,426.1 L771.9,424.9 L772.8,421.7 L773.6,419.4 L774.3,420.1 L774.9,419.2 L775.5,415.0 L776.0,412.3 L776.5,410.6 L777.0,409.1 L777.5,405.3 L777.9,403.5 L778.4,404.2 L778.9,402.4 L779.3,399.2 L779.7,396.2 L780.1,394.3 L780.5,393.0 L780.9,392.1 L781.2,391.4 L781.6,389.9 L782.0,384.4 L782.3,382.1 L782.7,382.1 L783.0,380.7 L783.4,379.2 L783.7,375.7 L784.1,372.9 L784.4,372.6 L784.7,370.2 L785.0,367.4 L785.3,365.2 L785.6,364.0 L785.9,363.9 L786.2,361.0 L786.5,357.3 L786.8,354.8 L787.1,353.5 L787.4,351.6 L787.7,350.0 L788.0,347.1 L788.3,343.8 L788.6,342.2 L788.9,342.0 L789.1,339.8 L789.4,337.2 L789.7,337.0 L790.0,333.6 L790.2,329.3 L790.5,326.9 L790.8,327.0 L791.1,326.9 L791.4,324.3 L791.7,321.1 L792.0,319.4 L792.3,316.9 L792.6,315.3 L792.9,314.7 L793.2,312.3 L793.5,311.5 L793.8,308.6 L794.1,304.5 L794.4,303.8 L794.6,303.7 L794.9,300.5 L795.2,296.7 L795.4,295.4 L795.7,294.8 L795.9,292.3 L796.2,290.6 L796.4,291.1 L796.6,288.2 L796.9,283.9 L797.1,283.9 L797.3,281.2 L797.6,278.4 L797.8,278.4 L798.0,274.1 L798.2,271.8 L798.5,272.4 L798.7,269.5 L798.9,264.3 L799.1,262.0 L799.3,263.5 L799.6,261.3 L799.8,258.6 L800.0,256.4 L800.2,253.1 L800.4,251.6 L800.7,249.9 L800.9,249.0 L801.1,247.2 L801.3,244.0 L801.6,241.9 L801.8,240.5 L802.1,238.3 L802.3,236.0 L802.5,233.7 L802.8,232.5 L803.0,232.9 L803.3,230.7 L803.5,227.1 L803.7,224.3 L804.0,221.7 L804.2,221.6 L804.5,219.8 L804.7,217.0 L805.0,216.0 L805.2,213.2 L805.5,211.4 L805.7,210.6 L806.0,208.1 L806.2,204.8 L806.5,202.4 L806.7,199.6 L807.0,197.5 L807.2,197.3 L807.5,194.8 L807.7,193.1 L807.9,190.2 L808.2,187.3 L808.4,185.3 L808.7,184.0 L808.9,182.8 L809.1,181.6 L809.4,179.4 L809.6,176.9 L809.9,175.6 L810.1,173.4 L810.4,172.1 L810.6,171.1 L810.9,169.6 L811.2,165.2 L811.5,162.5 L811.8,160.8 L812.1,158.7 L812.4,156.8 L812.7,155.4 L813.0,154.8 L813.4,152.1 L813.7,148.6 L814.1,145.2 L814.4,142.9 L814.8,142.1 L815.2,141.8 L815.6,140.9 L816.1,139.3 L816.5,135.7 L816.9,132.9 L817.4,132.4 L817.9,131.0 L818.4,128.2 L819.0,124.8 L819.5,124.4 L820.1,123.5 L820.8,118.8 L821.4,117.2 L822.1,116.9 L822.8,114.6 L823.5,112.4 L824.2,109.7 L825.0,109.0 L825.8,108.1 L826.6,103.6 L827.5,101.7 L828.4,99.3 L829.4,97.9 L830.4,97.8 L831.5,96.2 L832.6,95.8 L833.7,93.9 L834.9,93.7 L836.1,92.3 L837.3,89.2 L838.5,87.6 L839.8,85.3 L841.0,83.1 L842.3,82.7 L843.6,82.5 L845.0,81.4 L846.4,78.8 L847.8,75.5 L849.3,74.5 L850.8,73.9 L852.4,72.8 L854.1,70.0 L855.7,68.9 L857.4,69.6 L859.2,69.1 L861.0,67.8 L862.8,66.5 L864.6,67.0 L866.5,67.4 L868.4,65.9 L870.4,64.4 L872.3,63.9 L874.3,64.2 L876.2,63.9 L878.2,63.0 L880.2,63.8 L882.2,62.9 L884.2,60.7 L886.2,61.0 L888.2,63.2 L890.2,63.6 L892.1,60.7 L894.1,60.9 L896.1,62.4 L898.1,61.8 L900.1,60.3 L902.1,59.4 L904.1,60.2 L906.1,61.5 L908.1,61.2 L910.1,59.8 L912.1,59.3 L914.1,60.8 L916.1,61.7 L918.1,61.8 L920.1,62.1 L922.1,62.1 L924.1,61.5 L926.1,61.5 L928.1,61.8 L930.1,60.7 L932.1,61.9 L934.1,61.5 L936.1,60.8 L938.1,62.0 L940.1,62.1 L942.1,61.8 L944.1,62.4 L946.1,61.7 L948.1,62.1 L950.1,63.8 L952.1,62.8 L954.1,61.5 L956.1,60.3 L958.1,59.6 L960.1,59.9 L962.1,60.9 L964.1,62.8" stroke="#000000" stroke-width="10.5"/>
</g>
<g id="arrow"><line x1="863" y1="155" x2="842" y2="340" stroke="#0000ff" stroke-width="7"/><polygon points="823,335 859.5,338.5 837,379.5" fill="#0000ff"/></g>
<rect class="ax" x="220.5" y="52.3" width="803.8" height="656.1"/>
<path class="ax" style="stroke-linecap:round" d="M282.33,709.4 v11.6 M405.99,709.4 v11.6 M529.65,709.4 v11.6 M653.32,709.4 v11.6 M776.98,709.4 v11.6 M900.64,709.4 v11.6 M1024.3,709.4 v11.6 M220.5,709.4 v5.9 M344.16,709.4 v5.9 M467.82,709.4 v5.9 M591.48,709.4 v5.9 M715.15,709.4 v5.9 M838.81,709.4 v5.9 M962.47,709.4 v5.9 M219.5,52.3 h-11.6 M219.5,125.2 h-11.6 M219.5,198.1 h-11.6 M219.5,271 h-11.6 M219.5,343.9 h-11.6 M219.5,416.8 h-11.6 M219.5,489.7 h-11.6 M219.5,562.6 h-11.6 M219.5,635.5 h-11.6 M219.5,708.4 h-11.6 M219.5,671.95 h-5.9 M219.5,599.05 h-5.9 M219.5,526.15 h-5.9 M219.5,453.25 h-5.9 M219.5,380.35 h-5.9 M219.5,307.45 h-5.9 M219.5,234.55 h-5.9 M219.5,161.65 h-5.9 M219.5,88.75 h-5.9"/>
<g class="tk" text-anchor="middle">
<text transform="translate(282.33,767.6) scale(0.99,1.03)">-0.4</text>
<text transform="translate(405.99,767.6) scale(0.99,1.03)">-0.2</text>
<text transform="translate(529.65,767.6) scale(0.99,1.03)">0.0</text>
<text transform="translate(653.32,767.6) scale(0.99,1.03)">0.2</text>
<text transform="translate(776.98,767.6) scale(0.99,1.03)">0.4</text>
<text transform="translate(900.64,767.6) scale(0.99,1.03)">0.6</text>
<text transform="translate(1024.3,767.6) scale(0.99,1.03)">0.8</text>
</g>
<g class="tk" text-anchor="end">
<text transform="translate(200,68) scale(0.99,1.03)">0</text>
<text transform="translate(200,140.9) scale(0.99,1.03)">-2</text>
<text transform="translate(200,213.8) scale(0.99,1.03)">-4</text>
<text transform="translate(200,286.7) scale(0.99,1.03)">-6</text>
<text transform="translate(200,359.6) scale(0.99,1.03)">-8</text>
<text transform="translate(200,432.5) scale(0.99,1.03)">-10</text>
<text transform="translate(200,505.4) scale(0.99,1.03)">-12</text>
<text transform="translate(200,578.3) scale(0.99,1.03)">-14</text>
<text transform="translate(200,651.2) scale(0.99,1.03)">-16</text>
<text transform="translate(200,724.1) scale(0.99,1.03)">-18</text>
</g>
<text class="tt" text-anchor="middle" transform="translate(623.8,835.6) scale(1.002,1.01)">Potential / V vs. Ag/AgCl</text>
<text class="tt" text-anchor="middle" transform="translate(108.3,392) rotate(-90) scale(1.004,1.03)">Current / <tspan class="mu" dx="-4.6" textLength="45" lengthAdjust="spacingAndGlyphs">μ</tspan><tspan dx="-2.9">A</tspan></text>
<text class="pl" transform="translate(412,615.5) scale(1.0,1.0)">a<tspan class="pr">)</tspan></text>
</g>
<g id="panel-b">
<defs><clipPath id="clip-b"><rect x="1229" y="52.3" width="804.7" height="656.1"/></clipPath></defs>
<g clip-path="url(#clip-b)">
<path class="cv" d="M1286.1,686.3 L1286.2,683.3 L1286.3,680.2 L1286.4,677.2 L1286.5,674.2 L1286.6,671.2 L1286.8,668.1 L1286.9,665.1 L1287.0,662.1 L1287.2,659.1 L1287.4,656.1 L1287.5,653.1 L1287.7,650.1 L1287.9,647.1 L1288.1,644.1 L1288.3,641.1 L1288.5,638.1 L1288.7,635.1 L1288.9,632.1 L1289.1,629.1 L1289.4,626.1 L1289.6,623.1 L1289.8,620.1 L1290.1,617.1 L1290.4,614.2 L1290.6,611.2 L1290.9,608.2 L1291.2,605.2 L1291.4,602.3 L1291.7,599.3 L1292.0,596.3 L1292.3,593.3 L1292.6,590.4 L1292.9,587.4 L1293.3,584.4 L1293.6,581.5 L1293.9,578.5 L1294.2,575.6 L1294.6,572.6 L1294.9,569.6 L1295.3,566.7 L1295.6,563.7 L1296.0,560.8 L1296.4,557.8 L1296.7,554.8 L1297.1,551.9 L1297.5,548.9 L1297.9,546.0 L1298.3,543.0 L1298.7,540.1 L1299.1,537.1 L1299.5,534.2 L1299.9,531.2 L1300.3,528.3 L1300.8,525.3 L1301.2,522.4 L1301.6,519.4 L1302.1,516.5 L1302.5,513.5 L1302.9,510.5 L1303.4,507.6 L1303.8,504.6 L1304.3,501.7 L1304.8,498.7 L1305.2,495.8 L1305.7,492.8 L1306.2,489.9 L1306.7,486.9 L1307.2,483.9 L1307.6,481.0 L1308.1,478.0 L1308.6,475.1 L1309.1,472.1 L1309.6,469.1 L1310.1,466.2 L1310.7,463.2 L1311.2,460.2 L1311.7,457.3 L1312.2,454.3 L1312.7,451.3 L1313.3,448.4 L1313.8,445.4 L1314.3,442.4 L1314.9,439.4 L1315.4,436.5 L1316.0,433.5 L1316.5,430.5 L1317.1,427.5 L1317.7,424.5 L1318.3,421.6 L1318.8,418.6 L1319.5,415.6 L1320.1,412.7 L1320.7,409.7 L1321.3,406.7 L1322.0,403.8 L1322.7,400.8 L1323.4,397.9 L1324.1,395.0 L1324.9,392.0 L1325.6,389.1 L1326.4,386.2 L1327.2,383.3 L1328.1,380.4 L1328.9,377.5 L1329.8,374.6 L1330.7,371.8 L1331.7,368.9 L1332.7,366.1 L1333.7,363.3 L1334.8,360.5 L1335.9,357.8 L1337.0,355.0 L1338.2,352.3 L1339.5,349.7 L1340.8,347.0 L1342.1,344.4 L1343.5,341.8 L1344.9,339.3 L1346.4,336.8 L1348.0,334.3 L1349.5,331.8 L1351.2,329.4 L1352.9,327.0 L1354.6,324.7 L1356.4,322.3 L1358.2,320.0 L1360.0,317.8 L1361.9,315.5 L1363.8,313.3 L1365.8,311.2 L1367.8,309.0 L1369.9,306.9 L1372.0,304.8 L1374.1,302.7 L1376.2,300.7 L1378.4,298.7 L1380.6,296.7 L1382.9,294.7 L1385.1,292.8 L1387.4,290.9 L1389.8,289.0 L1392.1,287.2 L1394.5,285.3 L1396.9,283.5 L1399.3,281.7 L1401.8,280.0 L1404.2,278.2 L1406.7,276.5 L1409.2,274.8 L1411.7,273.2 L1414.3,271.5 L1416.8,269.9 L1419.4,268.3 L1422.0,266.7 L1424.6,265.1 L1427.2,263.6 L1429.8,262.0 L1432.4,260.5 L1435.1,259.0 L1437.7,257.5 L1440.4,256.1 L1443.0,254.6 L1445.7,253.2 L1448.4,251.8 L1451.0,250.4 L1453.7,249.1 L1456.4,247.7 L1459.1,246.4 L1461.8,245.1 L1464.5,243.8 L1467.3,242.5 L1470.0,241.2 L1472.7,240.0 L1475.5,238.8 L1478.2,237.6 L1481.0,236.4 L1483.8,235.2 L1486.5,234.0 L1489.3,232.9 L1492.1,231.8 L1494.9,230.7 L1497.7,229.6 L1500.4,228.5 L1503.3,227.5 L1506.1,226.5 L1508.9,225.5 L1511.7,224.5 L1514.5,223.5 L1517.3,222.5 L1520.2,221.6 L1523.0,220.7 L1525.8,219.8 L1528.7,218.9 L1531.5,218.0 L1534.4,217.1 L1537.2,216.3 L1540.1,215.4 L1543.0,214.6 L1545.8,213.8 L1548.7,213.0 L1551.6,212.2 L1554.5,211.5 L1557.4,210.7 L1560.2,210.0 L1563.1,209.2 L1566.0,208.5 L1568.9,207.8 L1571.8,207.1 L1574.7,206.4 L1577.6,205.7 L1580.5,205.1 L1583.5,204.4 L1586.4,203.8 L1589.3,203.1 L1592.2,202.5 L1595.1,201.9 L1598.1,201.2 L1601.0,200.6 L1603.9,200.0 L1606.8,199.4 L1609.8,198.9 L1612.7,198.3 L1615.6,197.7 L1618.6,197.2 L1621.5,196.6 L1624.5,196.1 L1627.4,195.5 L1630.4,195.0 L1633.3,194.5 L1636.3,194.0 L1639.2,193.4 L1642.2,192.9 L1645.1,192.4 L1648.1,192.0 L1651.1,191.5 L1654.0,191.0 L1657.0,190.5 L1660.0,190.1 L1662.9,189.6 L1665.9,189.2 L1668.9,188.7 L1671.8,188.3 L1674.8,187.9 L1677.8,187.4 L1680.7,187.0 L1683.7,186.6 L1686.7,186.2 L1689.7,185.8 L1692.6,185.4 L1695.6,185.0 L1698.6,184.6 L1701.6,184.2 L1704.5,183.8 L1707.5,183.4 L1710.5,183.1 L1713.5,182.7 L1716.4,182.3 L1719.4,182.0 L1722.4,181.6 L1725.4,181.3 L1728.4,180.9 L1731.3,180.6 L1734.3,180.3 L1737.3,179.9 L1740.3,179.6 L1743.2,179.3 L1746.2,178.9 L1749.2,178.6 L1752.2,178.3 L1755.2,178.0 L1758.1,177.7 L1761.1,177.4 L1764.1,177.1 L1767.1,176.8 L1770.1,176.5 L1773.0,176.2 L1776.0,175.9 L1779.0,175.6 L1782.0,175.4 L1785.0,175.1 L1788.0,174.8 L1790.9,174.5 L1793.9,174.3 L1796.9,174.0 L1799.9,173.7 L1802.9,173.5 L1805.8,173.2 L1808.8,173.0 L1811.8,172.7 L1814.8,172.5 L1817.8,172.2 L1820.8,172.0 L1823.8,171.8 L1826.7,171.5 L1829.7,171.3 L1832.7,171.1 L1835.7,170.8 L1838.7,170.6 L1841.7,170.4 L1844.6,170.2 L1847.6,170.0 L1850.6,169.8 L1853.6,169.5 L1856.6,169.3 L1859.6,169.1 L1862.6,168.9 L1865.5,168.7 L1868.5,168.5 L1871.5,168.3 L1874.5,168.1 L1877.5,167.9 L1880.5,167.7 L1883.5,167.6 L1886.5,167.4 L1889.4,167.2 L1892.4,167.0 L1895.4,166.8 L1898.4,166.6 L1901.4,166.5 L1904.4,166.3 L1907.4,166.1 L1910.4,165.9 L1913.3,165.8 L1916.3,165.6 L1919.3,165.4 L1922.3,165.3 L1925.3,165.1 L1928.3,164.9 L1931.3,164.8 L1934.3,164.6 L1937.3,164.4 L1940.3,164.3 L1943.2,164.1 L1946.2,164.0 L1949.2,163.8 L1952.2,163.6 L1955.2,163.5 L1958.2,163.3 L1961.2,163.2 L1964.2,163.0 L1967.2,162.9 L1970.2,162.7 L1973.2,162.6 L1976.1,162.4 L1979.1,162.3 L1982.1,162.1 L1985.1,162.0 L1988.1,161.9 L1991.1,161.7 L1994.1,161.6 L1997.1,161.4 L2000.1,161.3 L2003.1,161.1 L2006.1,161.0 L2009.1,160.8 L2012.1,160.7 L2015.1,160.6 L2018.1,160.4 L2021.0,160.3 L2024.0,160.1 L2027.0,160.0 L2030.0,159.8 L2033.0,159.7 L2036.0,159.6 L2039.0,159.4 L2042.0,159.3" stroke="#000000" stroke-width="18"/>
<path class="cv" d="M1283.9,615.0 L1284.1,612.0 L1284.4,609.0 L1284.8,606.0 L1285.1,603.0 L1285.4,600.1 L1285.7,597.1 L1286.0,594.1 L1286.4,591.1 L1286.7,588.1 L1287.0,585.2 L1287.4,582.2 L1287.7,579.2 L1288.1,576.3 L1288.5,573.3 L1288.8,570.3 L1289.2,567.4 L1289.6,564.4 L1289.9,561.5 L1290.3,558.5 L1290.7,555.5 L1291.1,552.6 L1291.5,549.6 L1291.9,546.7 L1292.3,543.7 L1292.6,540.8 L1293.0,537.8 L1293.4,534.9 L1293.8,531.9 L1294.3,528.9 L1294.7,526.0 L1295.1,523.0 L1295.5,520.1 L1295.9,517.1 L1296.3,514.2 L1296.7,511.2 L1297.1,508.3 L1297.5,505.3 L1298.0,502.4 L1298.4,499.4 L1298.8,496.4 L1299.2,493.5 L1299.6,490.5 L1300.0,487.5 L1300.4,484.6 L1300.9,481.6 L1301.3,478.6 L1301.7,475.7 L1302.1,472.7 L1302.5,469.7 L1303.0,466.7 L1303.4,463.8 L1303.8,460.8 L1304.3,457.8 L1304.7,454.8 L1305.2,451.9 L1305.6,448.9 L1306.1,445.9 L1306.6,443.0 L1307.1,440.0 L1307.6,437.0 L1308.1,434.0 L1308.6,431.1 L1309.1,428.1 L1309.7,425.1 L1310.3,422.2 L1310.8,419.2 L1311.4,416.3 L1312.1,413.3 L1312.7,410.4 L1313.4,407.5 L1314.1,404.5 L1314.8,401.6 L1315.6,398.7 L1316.3,395.8 L1317.1,392.9 L1318.0,390.0 L1318.8,387.2 L1319.8,384.3 L1320.7,381.5 L1321.7,378.6 L1322.7,375.8 L1323.7,373.0 L1324.8,370.2 L1325.9,367.4 L1327.0,364.7 L1328.2,361.9 L1329.4,359.2 L1330.7,356.5 L1331.9,353.8 L1333.2,351.1 L1334.6,348.4 L1335.9,345.7 L1337.3,343.1 L1338.7,340.5 L1340.2,337.9 L1341.7,335.3 L1343.2,332.7 L1344.7,330.1 L1346.3,327.6 L1347.9,325.1 L1349.5,322.6 L1351.2,320.1 L1352.9,317.7 L1354.6,315.2 L1356.3,312.8 L1358.1,310.4 L1359.9,308.0 L1361.7,305.7 L1363.6,303.4 L1365.5,301.0 L1367.4,298.8 L1369.3,296.5 L1371.3,294.3 L1373.2,292.0 L1375.2,289.8 L1377.3,287.7 L1379.3,285.5 L1381.4,283.4 L1383.5,281.3 L1385.6,279.3 L1387.8,277.2 L1390.0,275.2 L1392.2,273.2 L1394.4,271.2 L1396.6,269.3 L1398.9,267.4 L1401.2,265.5 L1403.5,263.7 L1405.8,261.9 L1408.2,260.1 L1410.6,258.3 L1413.0,256.6 L1415.4,254.9 L1417.8,253.2 L1420.3,251.5 L1422.8,249.9 L1425.3,248.4 L1427.8,246.8 L1430.3,245.3 L1432.9,243.8 L1435.5,242.3 L1438.1,240.9 L1440.7,239.5 L1443.3,238.1 L1445.9,236.8 L1448.6,235.5 L1451.3,234.2 L1454.0,232.9 L1456.7,231.6 L1459.4,230.4 L1462.1,229.2 L1464.9,228.1 L1467.6,226.9 L1470.4,225.8 L1473.2,224.7 L1476.0,223.6 L1478.8,222.6 L1481.6,221.5 L1484.4,220.5 L1487.3,219.5 L1490.1,218.6 L1493.0,217.6 L1495.9,216.7 L1498.8,215.8 L1501.7,214.9 L1504.5,214.0 L1507.5,213.1 L1510.4,212.3 L1513.3,211.4 L1516.2,210.6 L1519.1,209.8 L1522.1,209.1 L1525.0,208.3 L1528.0,207.5 L1530.9,206.8 L1533.9,206.1 L1536.8,205.3 L1539.8,204.6 L1542.8,204.0 L1545.7,203.3 L1548.7,202.6 L1551.7,201.9 L1554.6,201.3 L1557.6,200.7 L1560.6,200.0 L1563.6,199.4 L1566.5,198.8 L1569.5,198.2 L1572.5,197.6 L1575.5,197.0 L1578.4,196.4 L1581.4,195.8 L1584.3,195.2 L1587.3,194.7 L1590.3,194.1 L1593.2,193.5 L1596.2,193.0 L1599.1,192.4 L1602.1,191.9 L1605.0,191.3 L1608.0,190.8 L1610.9,190.3 L1613.8,189.7 L1616.8,189.2 L1619.7,188.7 L1622.7,188.2 L1625.6,187.7 L1628.5,187.2 L1631.5,186.7 L1634.4,186.2 L1637.3,185.7 L1640.3,185.2 L1643.2,184.8 L1646.1,184.3 L1649.0,183.8 L1652.0,183.4 L1654.9,182.9 L1657.8,182.5 L1660.8,182.0 L1663.7,181.6 L1666.6,181.1 L1669.6,180.7 L1672.5,180.3 L1675.4,179.9 L1678.3,179.4 L1681.3,179.0 L1684.2,178.6 L1687.1,178.2 L1690.1,177.8 L1693.0,177.4 L1696.0,177.0 L1698.9,176.7 L1701.8,176.3 L1704.8,175.9 L1707.7,175.5 L1710.7,175.2 L1713.6,174.8 L1716.6,174.5 L1719.5,174.1 L1722.5,173.8 L1725.4,173.4 L1728.4,173.1 L1731.3,172.7 L1734.3,172.4 L1737.2,172.1 L1740.2,171.8 L1743.2,171.4 L1746.1,171.1 L1749.1,170.8 L1752.1,170.5 L1755.0,170.2 L1758.0,169.9 L1761.0,169.6 L1764.0,169.3 L1766.9,169.0 L1769.9,168.7 L1772.9,168.5 L1775.9,168.2 L1778.9,167.9 L1781.8,167.6 L1784.8,167.4 L1787.8,167.1 L1790.8,166.9 L1793.8,166.6 L1796.8,166.4 L1799.7,166.1 L1802.7,165.9 L1805.7,165.6 L1808.7,165.4 L1811.7,165.1 L1814.7,164.9 L1817.7,164.7 L1820.7,164.4 L1823.7,164.2 L1826.7,164.0 L1829.7,163.8 L1832.7,163.6 L1835.7,163.4 L1838.7,163.1 L1841.7,162.9 L1844.7,162.7 L1847.7,162.5 L1850.6,162.3 L1853.6,162.1 L1856.6,161.9 L1859.6,161.7 L1862.6,161.5 L1865.6,161.4 L1868.6,161.2 L1871.6,161.0 L1874.6,160.8 L1877.6,160.6 L1880.6,160.4 L1883.6,160.3 L1886.7,160.1 L1889.7,159.9 L1892.7,159.7 L1895.7,159.6 L1898.7,159.4 L1901.7,159.2 L1904.7,159.1 L1907.7,158.9 L1910.7,158.8 L1913.6,158.6 L1916.6,158.4 L1919.6,158.3 L1922.6,158.1 L1925.6,158.0 L1928.6,157.8 L1931.6,157.7 L1934.6,157.5 L1937.6,157.4 L1940.6,157.2 L1943.6,157.1 L1946.6,156.9 L1949.6,156.8 L1952.6,156.7 L1955.6,156.5 L1958.6,156.4 L1961.6,156.2 L1964.5,156.1 L1967.5,156.0 L1970.5,155.8 L1973.5,155.7 L1976.5,155.5 L1979.5,155.4 L1982.5,155.3 L1985.4,155.1 L1988.4,155.0 L1991.4,154.9 L1994.4,154.7 L1997.4,154.6 L2000.3,154.5 L2003.3,154.3 L2006.3,154.2 L2009.2,154.1 L2012.2,153.9 L2015.2,153.8 L2018.1,153.7 L2021.1,153.5 L2024.1,153.4 L2027.0,153.3 L2030.0,153.1 L2033.0,153.0 L2035.9,152.9 L2038.9,152.7 L2041.8,152.6" stroke="#ff0000" stroke-width="18"/>
<path class="cv" d="M1285.5,663.9 L1285.8,660.9 L1286.2,658.0 L1286.5,655.0 L1286.8,652.0 L1287.1,649.1 L1287.5,646.1 L1287.8,643.1 L1288.1,640.1 L1288.4,637.2 L1288.7,634.2 L1289.0,631.2 L1289.3,628.2 L1289.6,625.2 L1289.9,622.3 L1290.1,619.3 L1290.4,616.3 L1290.7,613.3 L1291.0,610.3 L1291.3,607.3 L1291.6,604.4 L1291.9,601.4 L1292.2,598.4 L1292.4,595.4 L1292.7,592.4 L1293.0,589.4 L1293.3,586.4 L1293.6,583.5 L1293.9,580.5 L1294.2,577.5 L1294.5,574.5 L1294.8,571.5 L1295.2,568.5 L1295.5,565.5 L1295.8,562.6 L1296.1,559.6 L1296.4,556.6 L1296.8,553.6 L1297.1,550.6 L1297.5,547.6 L1297.8,544.7 L1298.2,541.7 L1298.6,538.7 L1298.9,535.7 L1299.3,532.8 L1299.7,529.8 L1300.1,526.8 L1300.5,523.8 L1300.9,520.9 L1301.3,517.9 L1301.8,514.9 L1302.2,511.9 L1302.7,509.0 L1303.1,506.0 L1303.6,503.1 L1304.1,500.1 L1304.6,497.1 L1305.1,494.2 L1305.6,491.2 L1306.1,488.3 L1306.7,485.3 L1307.2,482.4 L1307.8,479.4 L1308.4,476.5 L1309.0,473.5 L1309.6,470.6 L1310.2,467.6 L1310.9,464.7 L1311.5,461.8 L1312.2,458.8 L1312.9,455.9 L1313.6,453.0 L1314.3,450.1 L1315.0,447.2 L1315.8,444.2 L1316.5,441.3 L1317.3,438.4 L1318.1,435.5 L1319.0,432.6 L1319.8,429.8 L1320.7,426.9 L1321.6,424.0 L1322.5,421.2 L1323.5,418.3 L1324.5,415.5 L1325.5,412.7 L1326.5,409.9 L1327.6,407.1 L1328.7,404.3 L1329.8,401.5 L1330.9,398.8 L1332.1,396.0 L1333.4,393.3 L1334.6,390.6 L1335.9,387.9 L1337.2,385.3 L1338.6,382.6 L1340.0,380.0 L1341.4,377.4 L1342.9,374.8 L1344.4,372.2 L1346.0,369.6 L1347.6,367.1 L1349.2,364.6 L1350.9,362.1 L1352.6,359.6 L1354.3,357.2 L1356.1,354.8 L1357.9,352.4 L1359.7,350.0 L1361.6,347.6 L1363.5,345.3 L1365.4,343.0 L1367.3,340.7 L1369.3,338.4 L1371.3,336.1 L1373.4,333.9 L1375.4,331.7 L1377.5,329.5 L1379.6,327.4 L1381.8,325.2 L1383.9,323.1 L1386.1,321.0 L1388.3,318.9 L1390.5,316.9 L1392.8,314.9 L1395.0,312.9 L1397.3,310.9 L1399.6,308.9 L1401.9,307.0 L1404.3,305.1 L1406.6,303.2 L1409.0,301.4 L1411.4,299.5 L1413.8,297.7 L1416.2,295.9 L1418.6,294.2 L1421.0,292.4 L1423.5,290.7 L1425.9,289.0 L1428.4,287.4 L1430.9,285.7 L1433.4,284.1 L1435.9,282.5 L1438.4,280.9 L1440.9,279.4 L1443.5,277.9 L1446.0,276.4 L1448.6,274.9 L1451.2,273.4 L1453.8,272.0 L1456.4,270.5 L1459.0,269.1 L1461.6,267.8 L1464.2,266.4 L1466.9,265.1 L1469.5,263.8 L1472.2,262.5 L1474.8,261.2 L1477.5,259.9 L1480.2,258.7 L1482.9,257.5 L1485.6,256.3 L1488.3,255.1 L1491.1,253.9 L1493.8,252.8 L1496.5,251.6 L1499.3,250.5 L1502.0,249.4 L1504.8,248.4 L1507.6,247.3 L1510.4,246.3 L1513.2,245.2 L1516.0,244.2 L1518.8,243.2 L1521.6,242.3 L1524.4,241.3 L1527.2,240.4 L1530.1,239.4 L1532.9,238.5 L1535.8,237.6 L1538.6,236.7 L1541.5,235.9 L1544.3,235.0 L1547.2,234.2 L1550.1,233.4 L1553.0,232.6 L1555.9,231.8 L1558.8,231.0 L1561.7,230.2 L1564.6,229.5 L1567.5,228.7 L1570.4,228.0 L1573.3,227.3 L1576.2,226.6 L1579.2,225.9 L1582.1,225.2 L1585.0,224.5 L1588.0,223.9 L1590.9,223.2 L1593.9,222.6 L1596.8,221.9 L1599.8,221.3 L1602.7,220.7 L1605.7,220.1 L1608.7,219.6 L1611.6,219.0 L1614.6,218.4 L1617.6,217.9 L1620.6,217.3 L1623.5,216.8 L1626.5,216.3 L1629.5,215.7 L1632.5,215.2 L1635.5,214.7 L1638.4,214.2 L1641.4,213.7 L1644.4,213.3 L1647.4,212.8 L1650.4,212.3 L1653.4,211.9 L1656.4,211.4 L1659.4,211.0 L1662.4,210.6 L1665.4,210.1 L1668.3,209.7 L1671.3,209.3 L1674.3,208.9 L1677.3,208.5 L1680.3,208.1 L1683.3,207.7 L1686.3,207.3 L1689.3,206.9 L1692.3,206.5 L1695.3,206.1 L1698.2,205.7 L1701.2,205.4 L1704.2,205.0 L1707.2,204.6 L1710.2,204.3 L1713.2,203.9 L1716.2,203.6 L1719.1,203.3 L1722.1,202.9 L1725.1,202.6 L1728.1,202.3 L1731.1,201.9 L1734.0,201.6 L1737.0,201.3 L1740.0,201.0 L1743.0,200.7 L1746.0,200.4 L1748.9,200.1 L1751.9,199.8 L1754.9,199.5 L1757.9,199.2 L1760.9,198.9 L1763.8,198.7 L1766.8,198.4 L1769.8,198.1 L1772.8,197.9 L1775.8,197.6 L1778.7,197.3 L1781.7,197.1 L1784.7,196.8 L1787.7,196.6 L1790.6,196.3 L1793.6,196.1 L1796.6,195.9 L1799.6,195.6 L1802.5,195.4 L1805.5,195.2 L1808.5,194.9 L1811.5,194.7 L1814.5,194.5 L1817.4,194.3 L1820.4,194.1 L1823.4,193.9 L1826.4,193.7 L1829.3,193.5 L1832.3,193.3 L1835.3,193.1 L1838.3,192.9 L1841.2,192.7 L1844.2,192.5 L1847.2,192.3 L1850.2,192.2 L1853.2,192.0 L1856.1,191.8 L1859.1,191.6 L1862.1,191.5 L1865.1,191.3 L1868.1,191.1 L1871.0,191.0 L1874.0,190.8 L1877.0,190.7 L1880.0,190.5 L1883.0,190.4 L1886.0,190.2 L1888.9,190.1 L1891.9,189.9 L1894.9,189.8 L1897.9,189.6 L1900.9,189.5 L1903.9,189.4 L1906.9,189.2 L1909.8,189.1 L1912.8,189.0 L1915.8,188.8 L1918.8,188.7 L1921.8,188.6 L1924.8,188.5 L1927.8,188.3 L1930.8,188.2 L1933.8,188.1 L1936.8,188.0 L1939.8,187.9 L1942.8,187.8 L1945.8,187.7 L1948.8,187.6 L1951.8,187.4 L1954.8,187.3 L1957.8,187.2 L1960.8,187.1 L1963.8,187.0 L1966.8,186.9 L1969.8,186.8 L1972.8,186.7 L1975.8,186.6 L1978.8,186.5 L1981.8,186.4 L1984.8,186.4 L1987.8,186.3 L1990.8,186.2 L1993.8,186.1 L1996.8,186.0 L1999.9,185.9 L2002.9,185.8 L2005.9,185.7 L2008.9,185.6 L2011.9,185.6 L2015.0,185.5 L2018.0,185.4 L2021.0,185.3 L2024.0,185.2 L2027.0,185.1 L2030.1,185.1 L2033.1,185.0 L2036.1,184.9 L2039.2,184.8 L2042.2,184.7" stroke="#0000ff" stroke-width="18"/>
<path class="cv" d="M1267.2,647.4 L1267.6,644.5 L1268.0,641.5 L1268.3,638.6 L1268.7,635.7 L1269.0,632.8 L1269.4,629.8 L1269.7,626.9 L1270.1,623.9 L1270.4,621.0 L1270.8,618.0 L1271.1,615.1 L1271.5,612.1 L1271.8,609.2 L1272.2,606.2 L1272.6,603.3 L1272.9,600.3 L1273.3,597.3 L1273.6,594.4 L1274.0,591.4 L1274.4,588.4 L1274.8,585.5 L1275.1,582.5 L1275.5,579.5 L1275.9,576.6 L1276.3,573.6 L1276.7,570.6 L1277.1,567.6 L1277.5,564.7 L1278.0,561.7 L1278.4,558.7 L1278.8,555.8 L1279.3,552.8 L1279.7,549.8 L1280.2,546.9 L1280.7,543.9 L1281.2,540.9 L1281.7,538.0 L1282.2,535.0 L1282.7,532.0 L1283.2,529.1 L1283.8,526.1 L1284.3,523.2 L1284.9,520.2 L1285.5,517.3 L1286.1,514.3 L1286.7,511.4 L1287.3,508.4 L1287.9,505.5 L1288.6,502.6 L1289.2,499.6 L1289.9,496.7 L1290.6,493.8 L1291.3,490.9 L1292.0,488.0 L1292.8,485.0 L1293.5,482.1 L1294.3,479.2 L1295.1,476.3 L1295.9,473.5 L1296.8,470.6 L1297.6,467.7 L1298.5,464.8 L1299.4,461.9 L1300.3,459.1 L1301.2,456.2 L1302.2,453.4 L1303.2,450.6 L1304.2,447.7 L1305.2,444.9 L1306.3,442.1 L1307.4,439.3 L1308.5,436.5 L1309.6,433.8 L1310.8,431.0 L1312.0,428.3 L1313.2,425.6 L1314.4,422.9 L1315.7,420.2 L1317.0,417.5 L1318.4,414.8 L1319.7,412.2 L1321.1,409.6 L1322.6,407.0 L1324.1,404.4 L1325.6,401.8 L1327.1,399.3 L1328.7,396.8 L1330.3,394.3 L1332.0,391.8 L1333.7,389.4 L1335.4,386.9 L1337.2,384.5 L1339.0,382.2 L1340.8,379.8 L1342.6,377.5 L1344.5,375.1 L1346.4,372.9 L1348.4,370.6 L1350.4,368.4 L1352.4,366.1 L1354.4,363.9 L1356.5,361.8 L1358.6,359.6 L1360.7,357.5 L1362.8,355.4 L1365.0,353.3 L1367.2,351.2 L1369.4,349.2 L1371.6,347.2 L1373.9,345.2 L1376.2,343.2 L1378.5,341.3 L1380.8,339.3 L1383.1,337.4 L1385.5,335.5 L1387.8,333.7 L1390.2,331.8 L1392.6,330.0 L1395.0,328.2 L1397.5,326.5 L1399.9,324.7 L1402.4,323.0 L1404.9,321.3 L1407.3,319.6 L1409.8,318.0 L1412.3,316.3 L1414.8,314.7 L1417.4,313.1 L1419.9,311.6 L1422.4,310.0 L1425.0,308.5 L1427.6,307.0 L1430.1,305.5 L1432.7,304.1 L1435.3,302.6 L1437.9,301.2 L1440.5,299.8 L1443.2,298.4 L1445.8,297.0 L1448.4,295.7 L1451.1,294.4 L1453.7,293.1 L1456.4,291.8 L1459.1,290.5 L1461.8,289.3 L1464.5,288.1 L1467.2,286.8 L1469.9,285.7 L1472.6,284.5 L1475.3,283.3 L1478.1,282.2 L1480.8,281.1 L1483.5,280.0 L1486.3,278.9 L1489.1,277.8 L1491.8,276.7 L1494.6,275.7 L1497.4,274.7 L1500.2,273.7 L1503.0,272.7 L1505.8,271.7 L1508.6,270.7 L1511.4,269.8 L1514.2,268.9 L1517.1,268.0 L1519.9,267.1 L1522.8,266.2 L1525.6,265.3 L1528.5,264.4 L1531.3,263.6 L1534.2,262.8 L1537.1,261.9 L1539.9,261.1 L1542.8,260.3 L1545.7,259.6 L1548.6,258.8 L1551.5,258.0 L1554.4,257.3 L1557.3,256.6 L1560.2,255.8 L1563.1,255.1 L1566.0,254.4 L1569.0,253.8 L1571.9,253.1 L1574.8,252.4 L1577.8,251.8 L1580.7,251.1 L1583.6,250.5 L1586.6,249.9 L1589.5,249.3 L1592.5,248.7 L1595.4,248.1 L1598.4,247.5 L1601.4,246.9 L1604.3,246.3 L1607.3,245.8 L1610.3,245.2 L1613.2,244.7 L1616.2,244.2 L1619.2,243.6 L1622.2,243.1 L1625.1,242.6 L1628.1,242.1 L1631.1,241.6 L1634.1,241.1 L1637.1,240.6 L1640.1,240.2 L1643.0,239.7 L1646.0,239.2 L1649.0,238.8 L1652.0,238.3 L1655.0,237.9 L1658.0,237.4 L1661.0,237.0 L1664.0,236.6 L1667.0,236.1 L1670.0,235.7 L1673.0,235.3 L1676.0,234.9 L1679.0,234.5 L1682.0,234.1 L1685.0,233.7 L1688.0,233.3 L1691.0,232.9 L1693.9,232.5 L1696.9,232.1 L1699.9,231.7 L1702.9,231.3 L1705.9,230.9 L1708.9,230.6 L1711.9,230.2 L1714.9,229.8 L1717.9,229.4 L1720.8,229.1 L1723.8,228.7 L1726.8,228.3 L1729.8,227.9 L1732.8,227.6 L1735.7,227.2 L1738.7,226.8 L1741.7,226.5 L1744.7,226.1 L1747.6,225.8 L1750.6,225.4 L1753.6,225.0 L1756.5,224.7 L1759.5,224.3 L1762.5,224.0 L1765.4,223.6 L1768.4,223.3 L1771.4,222.9 L1774.3,222.6 L1777.3,222.3 L1780.2,221.9 L1783.2,221.6 L1786.2,221.2 L1789.1,220.9 L1792.1,220.6 L1795.0,220.2 L1798.0,219.9 L1801.0,219.6 L1803.9,219.3 L1806.9,218.9 L1809.8,218.6 L1812.8,218.3 L1815.7,218.0 L1818.7,217.6 L1821.7,217.3 L1824.6,217.0 L1827.6,216.7 L1830.5,216.4 L1833.5,216.1 L1836.4,215.8 L1839.4,215.5 L1842.3,215.2 L1845.3,214.9 L1848.2,214.6 L1851.2,214.3 L1854.2,214.0 L1857.1,213.7 L1860.1,213.4 L1863.0,213.1 L1866.0,212.8 L1868.9,212.5 L1871.9,212.3 L1874.9,212.0 L1877.8,211.7 L1880.8,211.4 L1883.7,211.1 L1886.7,210.9 L1889.7,210.6 L1892.6,210.3 L1895.6,210.1 L1898.5,209.8 L1901.5,209.5 L1904.5,209.3 L1907.4,209.0 L1910.4,208.8 L1913.4,208.5 L1916.3,208.3 L1919.3,208.0 L1922.3,207.8 L1925.2,207.5 L1928.2,207.3 L1931.2,207.0 L1934.2,206.8 L1937.1,206.6 L1940.1,206.3 L1943.1,206.1 L1946.1,205.9 L1949.0,205.6 L1952.0,205.4 L1955.0,205.2 L1958.0,205.0 L1961.0,204.8 L1964.0,204.5 L1967.0,204.3 L1970.0,204.1 L1972.9,203.9 L1975.9,203.7 L1978.9,203.5 L1981.9,203.3 L1984.9,203.1 L1987.9,202.9 L1990.9,202.7 L1993.9,202.5 L1997.0,202.3 L2000.0,202.1 L2003.0,201.9 L2006.0,201.8 L2009.0,201.6 L2012.0,201.4 L2015.0,201.2 L2018.1,201.1 L2021.1,200.9 L2024.1,200.7 L2027.1,200.6 L2030.2,200.4 L2033.2,200.2 L2036.2,200.1 L2039.3,199.9 L2042.3,199.8" stroke="#ff00ff" stroke-width="18"/>
</g>
<rect class="ax" x="1229" y="52.3" width="804.7" height="656.1"/>
<path class="ax" style="stroke-linecap:round" d="M1267.32,709.4 v11.6 M1458.91,709.4 v11.6 M1650.51,709.4 v11.6 M1842.1,709.4 v11.6 M2033.7,709.4 v11.6 M1363.12,709.4 v5.9 M1554.71,709.4 v5.9 M1746.31,709.4 v5.9 M1937.9,709.4 v5.9 M1228,52.3 h-11.6 M1228,183.52 h-11.6 M1228,314.74 h-11.6 M1228,445.96 h-11.6 M1228,577.18 h-11.6 M1228,708.4 h-11.6 M1228,642.79 h-5.9 M1228,511.57 h-5.9 M1228,380.35 h-5.9 M1228,249.13 h-5.9 M1228,117.91 h-5.9"/>
<g class="tk" text-anchor="middle">
<text transform="translate(1267.32,767.6) scale(0.99,1.03)">0</text>
<text transform="translate(1458.91,767.6) scale(0.99,1.03)">5</text>
<text transform="translate(1650.51,767.6) scale(0.99,1.03)">10</text>
<text transform="translate(1842.1,767.6) scale(0.99,1.03)">15</text>
<text transform="translate(2033.7,767.6) scale(0.99,1.03)">20</text>
</g>
<g class="tk" text-anchor="end">
<text transform="translate(1208,68) scale(0.99,1.03)">0</text>
<text transform="translate(1208,199.22) scale(0.99,1.03)">-10</text>
<text transform="translate(1208,330.44) scale(0.99,1.03)">-20</text>
<text transform="translate(1208,461.66) scale(0.99,1.03)">-30</text>
<text transform="translate(1208,592.88) scale(0.99,1.03)">-40</text>
<text transform="translate(1208,724.1) scale(0.99,1.03)">-50</text>
</g>
<text class="tt" text-anchor="middle" transform="translate(1631,835.8) scale(0.993,1.01)">Time / s</text>
<text class="tt" text-anchor="middle" transform="translate(1116.3,392) rotate(-90) scale(1.004,1.03)">Current / <tspan class="mu" dx="-4.6" textLength="45" lengthAdjust="spacingAndGlyphs">μ</tspan><tspan dx="-2.9">A</tspan></text>
<text class="pl" transform="translate(1415,614.5) scale(1.0,1.0)">b<tspan class="pr">)</tspan></text>
</g>
<g id="panel-c">
<defs><clipPath id="clip-c"><rect x="220.5" y="895.2" width="804" height="657.6"/></clipPath></defs>
<g clip-path="url(#clip-c)">
<path class="cv" d="M258.6,1484.0 L258.6,1481.0 L258.7,1478.0 L258.7,1475.0 L258.7,1472.0 L258.7,1469.0 L258.8,1466.0 L258.8,1463.0 L258.9,1460.0 L258.9,1457.0 L258.9,1454.0 L259.0,1451.0 L259.0,1448.0 L259.0,1445.0 L259.1,1442.0 L259.1,1439.0 L259.1,1436.0 L259.2,1433.0 L259.2,1430.0 L259.3,1427.0 L259.3,1424.0 L259.4,1421.0 L259.4,1418.0 L259.4,1415.0 L259.5,1412.0 L259.5,1409.0 L259.6,1406.1 L259.6,1403.1 L259.7,1400.1 L259.8,1397.1 L259.8,1394.1 L259.9,1391.1 L259.9,1388.1 L260.0,1385.1 L260.1,1382.1 L260.1,1379.1 L260.2,1376.1 L260.3,1373.1 L260.4,1370.1 L260.4,1367.1 L260.5,1364.1 L260.6,1361.1 L260.7,1358.1 L260.8,1355.1 L260.8,1352.1 L260.9,1349.1 L261.0,1346.1 L261.1,1343.1 L261.2,1340.1 L261.3,1337.1 L261.4,1334.1 L261.6,1331.1 L261.7,1328.1 L261.8,1325.1 L261.9,1322.2 L262.0,1319.2 L262.2,1316.2 L262.3,1313.2 L262.4,1310.2 L262.6,1307.2 L262.7,1304.2 L262.8,1301.2 L263.0,1298.2 L263.1,1295.2 L263.3,1292.2 L263.5,1289.2 L263.6,1286.2 L263.8,1283.3 L264.0,1280.3 L264.1,1277.3 L264.3,1274.3 L264.5,1271.3 L264.7,1268.3 L264.9,1265.3 L265.1,1262.3 L265.3,1259.3 L265.5,1256.3 L265.7,1253.4 L265.9,1250.4 L266.2,1247.4 L266.4,1244.4 L266.6,1241.4 L266.9,1238.4 L267.1,1235.4 L267.4,1232.4 L267.6,1229.5 L267.9,1226.5 L268.2,1223.5 L268.4,1220.5 L268.7,1217.5 L269.0,1214.5 L269.3,1211.6 L269.6,1208.6 L269.9,1205.6 L270.2,1202.6 L270.5,1199.6 L270.8,1196.6 L271.1,1193.7 L271.5,1190.7 L271.8,1187.7 L272.1,1184.7 L272.5,1181.7 L272.8,1178.8 L273.2,1175.8 L273.6,1172.8 L274.0,1169.8 L274.4,1166.9 L274.8,1163.9 L275.2,1160.9 L275.7,1158.0 L276.1,1155.0 L276.6,1152.0 L277.1,1149.1 L277.7,1146.1 L278.2,1143.2 L278.8,1140.3 L279.4,1137.3 L280.1,1134.4 L280.7,1131.5 L281.4,1128.6 L282.2,1125.7 L282.9,1122.8 L283.7,1119.9 L284.6,1117.0 L285.4,1114.1 L286.4,1111.2 L287.3,1108.4 L288.3,1105.5 L289.3,1102.7 L290.4,1099.9 L291.6,1097.1 L292.7,1094.3 L294.0,1091.5 L295.3,1088.8 L296.6,1086.0 L298.0,1083.4 L299.4,1080.7 L301.0,1078.1 L302.5,1075.5 L304.2,1072.9 L305.9,1070.4 L307.6,1068.0 L309.5,1065.5 L311.4,1063.2 L313.4,1060.8 L315.4,1058.6 L317.4,1056.4 L319.6,1054.2 L321.7,1052.1 L323.9,1050.0 L326.2,1048.1 L328.5,1046.1 L330.8,1044.3 L333.1,1042.5 L335.5,1040.7 L337.9,1039.1 L340.3,1037.4 L342.8,1035.9 L345.3,1034.4 L347.8,1032.9 L350.3,1031.5 L352.9,1030.2 L355.5,1028.9 L358.1,1027.6 L360.8,1026.4 L363.4,1025.3 L366.1,1024.2 L368.8,1023.1 L371.5,1022.1 L374.3,1021.1 L377.0,1020.1 L379.8,1019.2 L382.6,1018.4 L385.4,1017.6 L388.3,1016.8 L391.1,1016.0 L394.0,1015.3 L396.9,1014.6 L399.8,1013.9 L402.7,1013.3 L405.6,1012.7 L408.5,1012.1 L411.5,1011.6 L414.4,1011.0 L417.4,1010.5 L420.3,1010.1 L423.3,1009.6 L426.3,1009.1 L429.3,1008.7 L432.3,1008.3 L435.3,1007.9 L438.3,1007.5 L441.3,1007.2 L444.3,1006.8 L447.4,1006.5 L450.4,1006.1 L453.4,1005.8 L456.4,1005.5 L459.4,1005.2 L462.5,1004.9 L465.5,1004.5 L468.5,1004.2 L471.5,1003.9 L474.5,1003.6 L477.5,1003.4 L480.6,1003.1 L483.6,1002.8 L486.6,1002.5 L489.6,1002.2 L492.6,1002.0 L495.6,1001.7 L498.6,1001.4 L501.6,1001.2 L504.7,1000.9 L507.7,1000.7 L510.7,1000.4 L513.7,1000.2 L516.7,999.9 L519.7,999.7 L522.7,999.5 L525.7,999.3 L528.7,999.0 L531.7,998.8 L534.7,998.6 L537.7,998.4 L540.7,998.2 L543.7,998.0 L546.8,997.8 L549.8,997.6 L552.8,997.4 L555.8,997.2 L558.8,997.0 L561.8,996.8 L564.8,996.6 L567.8,996.5 L570.8,996.3 L573.8,996.1 L576.8,995.9 L579.8,995.8 L582.8,995.6 L585.8,995.5 L588.8,995.3 L591.8,995.1 L594.7,995.0 L597.7,994.8 L600.7,994.7 L603.7,994.6 L606.7,994.4 L609.7,994.3 L612.7,994.2 L615.7,994.0 L618.7,993.9 L621.7,993.8 L624.7,993.7 L627.7,993.5 L630.7,993.4 L633.7,993.3 L636.7,993.2 L639.7,993.1 L642.7,993.0 L645.6,992.9 L648.6,992.8 L651.6,992.7 L654.6,992.6 L657.6,992.5 L660.6,992.4 L663.6,992.3 L666.6,992.2 L669.6,992.1 L672.6,992.0 L675.6,991.9 L678.5,991.9 L681.5,991.8 L684.5,991.7 L687.5,991.6 L690.5,991.6 L693.5,991.5 L696.5,991.4 L699.5,991.4 L702.5,991.3 L705.4,991.2 L708.4,991.2 L711.4,991.1 L714.4,991.0 L717.4,991.0 L720.4,990.9 L723.4,990.9 L726.4,990.8 L729.4,990.8 L732.3,990.7 L735.3,990.7 L738.3,990.6 L741.3,990.6 L744.3,990.5 L747.3,990.5 L750.3,990.4 L753.3,990.4 L756.3,990.4 L759.2,990.3 L762.2,990.3 L765.2,990.2 L768.2,990.2 L771.2,990.2 L774.2,990.1 L777.2,990.1 L780.2,990.1 L783.2,990.0 L786.1,990.0 L789.1,990.0 L792.1,990.0 L795.1,989.9 L798.1,989.9 L801.1,989.9 L804.1,989.8 L807.1,989.8 L810.1,989.8 L813.0,989.8 L816.0,989.7 L819.0,989.7 L822.0,989.7 L825.0,989.7 L828.0,989.6 L831.0,989.6 L834.0,989.6 L837.0,989.6 L840.0,989.6 L843.0,989.5 L846.0,989.5 L849.0,989.5 L851.9,989.5 L854.9,989.4 L857.9,989.4 L860.9,989.4 L863.9,989.4 L866.9,989.4 L869.9,989.3 L872.9,989.3 L875.9,989.3 L878.9,989.3 L881.9,989.2 L884.9,989.2 L887.9,989.2 L890.9,989.2 L893.9,989.1 L896.9,989.1 L899.9,989.1 L902.9,989.1 L905.9,989.0 L908.9,989.0 L911.9,989.0 L914.9,989.0 L917.9,988.9 L920.9,988.9 L923.9,988.9 L926.9,988.8 L929.9,988.8 L932.9,988.8 L935.9,988.7 L938.9,988.7 L941.9,988.7 L944.9,988.6 L947.9,988.6 L950.9,988.5 L953.9,988.5 L957.0,988.5 L960.0,988.4 L963.0,988.4 L966.0,988.3 L969.0,988.3 L972.0,988.2 L975.0,988.2 L978.0,988.1 L981.0,988.1 L984.1,988.0 L987.1,988.0 L990.1,987.9 L993.1,987.9 L996.1,987.8 L999.1,987.7 L1002.1,987.7 L1005.2,987.6 L1008.2,987.6 L1011.2,987.5 L1014.2,987.4 L1017.2,987.3 L1020.3,987.3 L1023.3,987.2 L1026.3,987.1 L1029.3,987.0 L1032.4,987.0" stroke="#000000" stroke-width="18"/>
<path class="cv" d="M258.7,1489.4 L258.8,1486.4 L258.9,1483.5 L259.0,1480.5 L259.0,1477.5 L259.1,1474.5 L259.2,1471.5 L259.2,1468.6 L259.3,1465.6 L259.4,1462.6 L259.4,1459.6 L259.5,1456.6 L259.5,1453.6 L259.6,1450.6 L259.6,1447.6 L259.7,1444.6 L259.7,1441.7 L259.7,1438.7 L259.8,1435.7 L259.8,1432.7 L259.9,1429.7 L259.9,1426.7 L260.0,1423.7 L260.0,1420.7 L260.1,1417.7 L260.1,1414.7 L260.1,1411.7 L260.2,1408.7 L260.2,1405.6 L260.3,1402.6 L260.4,1399.6 L260.4,1396.6 L260.5,1393.6 L260.5,1390.6 L260.6,1387.6 L260.7,1384.6 L260.7,1381.6 L260.8,1378.6 L260.9,1375.6 L261.0,1372.6 L261.1,1369.6 L261.2,1366.6 L261.3,1363.6 L261.4,1360.6 L261.5,1357.6 L261.6,1354.6 L261.8,1351.6 L261.9,1348.7 L262.0,1345.7 L262.2,1342.7 L262.3,1339.7 L262.5,1336.7 L262.7,1333.7 L262.8,1330.7 L263.0,1327.7 L263.2,1324.8 L263.4,1321.8 L263.6,1318.8 L263.8,1315.8 L264.0,1312.8 L264.3,1309.9 L264.5,1306.9 L264.7,1303.9 L264.9,1300.9 L265.2,1298.0 L265.4,1295.0 L265.7,1292.0 L265.9,1289.0 L266.2,1286.1 L266.4,1283.1 L266.7,1280.1 L266.9,1277.1 L267.2,1274.2 L267.5,1271.2 L267.7,1268.2 L268.0,1265.2 L268.3,1262.2 L268.6,1259.3 L268.8,1256.3 L269.1,1253.3 L269.4,1250.3 L269.7,1247.3 L269.9,1244.4 L270.2,1241.4 L270.5,1238.4 L270.7,1235.4 L271.0,1232.4 L271.3,1229.4 L271.6,1226.4 L271.8,1223.4 L272.1,1220.5 L272.3,1217.5 L272.6,1214.5 L272.9,1211.5 L273.1,1208.5 L273.4,1205.5 L273.6,1202.5 L273.8,1199.4 L274.1,1196.4 L274.3,1193.4 L274.6,1190.4 L274.8,1187.4 L275.0,1184.4 L275.3,1181.4 L275.6,1178.4 L275.8,1175.4 L276.1,1172.4 L276.4,1169.4 L276.8,1166.4 L277.1,1163.4 L277.5,1160.4 L277.9,1157.5 L278.3,1154.5 L278.7,1151.5 L279.2,1148.6 L279.7,1145.7 L280.3,1142.8 L280.9,1139.9 L281.5,1137.0 L282.2,1134.1 L282.9,1131.2 L283.7,1128.4 L284.5,1125.6 L285.4,1122.8 L286.3,1120.0 L287.3,1117.2 L288.4,1114.5 L289.6,1111.8 L290.9,1109.2 L292.3,1106.7 L293.9,1104.2 L295.6,1101.9 L297.5,1099.7 L299.6,1097.5 L301.7,1095.4 L303.9,1093.3 L306.1,1091.2 L308.4,1089.2 L310.6,1087.1 L312.8,1085.0 L315.1,1083.0 L317.3,1080.9 L319.6,1078.9 L321.8,1076.8 L324.1,1074.8 L326.4,1072.9 L328.7,1070.9 L331.0,1069.1 L333.4,1067.2 L335.8,1065.4 L338.2,1063.7 L340.6,1061.9 L343.1,1060.3 L345.6,1058.6 L348.1,1057.1 L350.6,1055.5 L353.1,1054.0 L355.7,1052.6 L358.3,1051.1 L360.9,1049.7 L363.6,1048.4 L366.2,1047.1 L368.9,1045.8 L371.6,1044.6 L374.3,1043.4 L377.0,1042.2 L379.7,1041.1 L382.5,1039.9 L385.2,1038.9 L388.0,1037.8 L390.8,1036.8 L393.6,1035.8 L396.4,1034.9 L399.3,1033.9 L402.1,1033.0 L405.0,1032.2 L407.9,1031.3 L410.7,1030.5 L413.6,1029.7 L416.5,1028.9 L419.4,1028.2 L422.3,1027.4 L425.3,1026.7 L428.2,1026.0 L431.1,1025.4 L434.1,1024.7 L437.0,1024.1 L440.0,1023.5 L442.9,1022.9 L445.9,1022.3 L448.9,1021.7 L451.8,1021.2 L454.8,1020.6 L457.8,1020.1 L460.7,1019.6 L463.7,1019.1 L466.7,1018.6 L469.6,1018.1 L472.6,1017.6 L475.6,1017.2 L478.6,1016.7 L481.5,1016.3 L484.5,1015.9 L487.5,1015.5 L490.5,1015.1 L493.4,1014.7 L496.4,1014.3 L499.4,1013.9 L502.4,1013.6 L505.3,1013.2 L508.3,1012.9 L511.3,1012.5 L514.3,1012.2 L517.3,1011.9 L520.2,1011.6 L523.2,1011.3 L526.2,1011.0 L529.2,1010.8 L532.2,1010.5 L535.1,1010.2 L538.1,1010.0 L541.1,1009.7 L544.1,1009.5 L547.1,1009.3 L550.1,1009.1 L553.0,1008.9 L556.0,1008.7 L559.0,1008.5 L562.0,1008.3 L565.0,1008.1 L568.0,1008.0 L571.0,1007.8 L573.9,1007.7 L576.9,1007.5 L579.9,1007.4 L582.9,1007.2 L585.9,1007.1 L588.9,1007.0 L591.9,1006.9 L594.9,1006.8 L597.8,1006.7 L600.8,1006.6 L603.8,1006.5 L606.8,1006.4 L609.8,1006.4 L612.8,1006.3 L615.8,1006.2 L618.8,1006.2 L621.8,1006.1 L624.8,1006.1 L627.7,1006.1 L630.7,1006.0 L633.7,1006.0 L636.7,1006.0 L639.7,1005.9 L642.7,1005.9 L645.7,1005.9 L648.7,1005.9 L651.7,1005.9 L654.7,1005.9 L657.7,1005.9 L660.7,1005.9 L663.7,1005.9 L666.6,1005.9 L669.6,1006.0 L672.6,1006.0 L675.6,1006.0 L678.6,1006.0 L681.6,1006.1 L684.6,1006.1 L687.6,1006.2 L690.6,1006.2 L693.6,1006.2 L696.6,1006.3 L699.6,1006.3 L702.6,1006.4 L705.6,1006.4 L708.6,1006.5 L711.6,1006.5 L714.6,1006.6 L717.6,1006.7 L720.5,1006.7 L723.5,1006.8 L726.5,1006.8 L729.5,1006.9 L732.5,1007.0 L735.5,1007.0 L738.5,1007.1 L741.5,1007.2 L744.5,1007.2 L747.5,1007.3 L750.5,1007.4 L753.5,1007.4 L756.5,1007.5 L759.5,1007.6 L762.5,1007.6 L765.5,1007.7 L768.5,1007.8 L771.5,1007.8 L774.5,1007.9 L777.5,1008.0 L780.5,1008.0 L783.5,1008.1 L786.4,1008.2 L789.4,1008.2 L792.4,1008.3 L795.4,1008.4 L798.4,1008.4 L801.4,1008.5 L804.4,1008.6 L807.4,1008.6 L810.4,1008.7 L813.4,1008.7 L816.4,1008.8 L819.4,1008.8 L822.4,1008.9 L825.4,1008.9 L828.4,1009.0 L831.4,1009.0 L834.4,1009.1 L837.4,1009.1 L840.4,1009.2 L843.4,1009.2 L846.4,1009.2 L849.3,1009.3 L852.3,1009.3 L855.3,1009.3 L858.3,1009.4 L861.3,1009.4 L864.3,1009.4 L867.3,1009.4 L870.3,1009.5 L873.3,1009.5 L876.3,1009.5 L879.3,1009.5 L882.3,1009.5 L885.3,1009.5 L888.3,1009.5 L891.3,1009.5 L894.3,1009.5 L897.3,1009.5 L900.3,1009.5 L903.3,1009.5 L906.2,1009.4 L909.2,1009.4 L912.2,1009.4 L915.2,1009.4 L918.2,1009.3 L921.2,1009.3 L924.2,1009.3 L927.2,1009.2 L930.2,1009.2 L933.2,1009.1 L936.2,1009.1 L939.2,1009.0 L942.2,1008.9 L945.2,1008.9 L948.2,1008.8 L951.2,1008.7 L954.2,1008.6 L957.2,1008.5 L960.1,1008.4 L963.1,1008.3 L966.1,1008.2 L969.1,1008.1 L972.1,1008.0 L975.1,1007.9 L978.1,1007.8 L981.1,1007.7 L984.1,1007.5 L987.1,1007.4 L990.1,1007.2 L993.1,1007.1 L996.1,1006.9 L999.1,1006.8 L1002.1,1006.6 L1005.1,1006.4 L1008.0,1006.3 L1011.0,1006.1 L1014.0,1005.9 L1017.0,1005.7 L1020.0,1005.5 L1023.0,1005.3 L1026.0,1005.1 L1029.0,1004.9 L1032.0,1004.6" stroke="#ff0000" stroke-width="18"/>
<path class="cv" d="M258.2,1480.1 L258.2,1477.1 L258.3,1474.1 L258.3,1471.0 L258.3,1468.0 L258.4,1465.0 L258.4,1462.0 L258.4,1459.0 L258.5,1456.0 L258.5,1453.0 L258.5,1450.0 L258.6,1447.0 L258.6,1444.0 L258.6,1441.0 L258.7,1438.0 L258.7,1435.0 L258.8,1432.0 L258.8,1429.0 L258.9,1426.0 L258.9,1423.0 L258.9,1420.0 L259.0,1417.0 L259.1,1414.0 L259.1,1411.0 L259.2,1408.0 L259.2,1405.0 L259.3,1402.0 L259.3,1399.0 L259.4,1396.0 L259.5,1393.0 L259.5,1390.0 L259.6,1387.0 L259.7,1384.0 L259.7,1381.0 L259.8,1378.0 L259.9,1375.0 L260.0,1372.1 L260.0,1369.1 L260.1,1366.1 L260.2,1363.1 L260.3,1360.1 L260.4,1357.1 L260.5,1354.1 L260.6,1351.1 L260.7,1348.1 L260.8,1345.1 L260.9,1342.1 L261.0,1339.1 L261.1,1336.1 L261.2,1333.1 L261.3,1330.1 L261.5,1327.1 L261.6,1324.2 L261.7,1321.2 L261.8,1318.2 L262.0,1315.2 L262.1,1312.2 L262.2,1309.2 L262.4,1306.2 L262.5,1303.2 L262.7,1300.2 L262.8,1297.2 L263.0,1294.2 L263.1,1291.2 L263.3,1288.3 L263.4,1285.3 L263.6,1282.3 L263.8,1279.3 L264.0,1276.3 L264.1,1273.3 L264.3,1270.3 L264.5,1267.3 L264.7,1264.3 L264.9,1261.3 L265.1,1258.3 L265.3,1255.4 L265.5,1252.4 L265.7,1249.4 L265.9,1246.4 L266.1,1243.4 L266.4,1240.4 L266.6,1237.4 L266.8,1234.4 L267.1,1231.4 L267.3,1228.4 L267.6,1225.4 L267.8,1222.4 L268.1,1219.5 L268.3,1216.5 L268.6,1213.5 L268.9,1210.5 L269.1,1207.5 L269.4,1204.5 L269.7,1201.5 L270.0,1198.5 L270.3,1195.5 L270.6,1192.5 L270.9,1189.5 L271.2,1186.5 L271.5,1183.6 L271.8,1180.6 L272.2,1177.6 L272.5,1174.6 L272.9,1171.6 L273.3,1168.6 L273.7,1165.6 L274.1,1162.7 L274.5,1159.7 L275.0,1156.7 L275.5,1153.8 L276.0,1150.8 L276.5,1147.9 L277.1,1145.0 L277.7,1142.1 L278.3,1139.1 L279.0,1136.2 L279.7,1133.3 L280.5,1130.5 L281.3,1127.6 L282.1,1124.7 L283.0,1121.9 L283.9,1119.1 L284.9,1116.2 L285.9,1113.4 L287.0,1110.7 L288.1,1107.9 L289.3,1105.1 L290.5,1102.4 L291.8,1099.7 L293.2,1097.0 L294.6,1094.4 L296.1,1091.7 L297.6,1089.2 L299.2,1086.6 L300.9,1084.1 L302.6,1081.6 L304.5,1079.2 L306.3,1076.8 L308.3,1074.5 L310.3,1072.2 L312.4,1069.9 L314.6,1067.7 L316.8,1065.6 L319.0,1063.6 L321.3,1061.5 L323.6,1059.6 L326.0,1057.7 L328.4,1055.9 L330.9,1054.2 L333.3,1052.5 L335.8,1050.9 L338.3,1049.3 L340.8,1047.9 L343.4,1046.4 L346.0,1045.1 L348.6,1043.8 L351.2,1042.5 L353.9,1041.3 L356.6,1040.2 L359.3,1039.1 L362.0,1038.1 L364.8,1037.1 L367.5,1036.2 L370.3,1035.3 L373.1,1034.5 L375.9,1033.7 L378.7,1032.9 L381.6,1032.2 L384.5,1031.6 L387.3,1030.9 L390.2,1030.3 L393.1,1029.8 L396.0,1029.3 L399.0,1028.8 L401.9,1028.3 L404.9,1027.9 L407.8,1027.5 L410.8,1027.1 L413.8,1026.8 L416.8,1026.5 L419.8,1026.2 L422.8,1025.9 L425.8,1025.7 L428.8,1025.4 L431.8,1025.2 L434.9,1025.0 L437.9,1024.9 L440.9,1024.7 L444.0,1024.5 L447.0,1024.4 L450.0,1024.3 L453.1,1024.1 L456.1,1024.0 L459.2,1023.9 L462.2,1023.8 L465.2,1023.7 L468.3,1023.6 L471.3,1023.5 L474.3,1023.4 L477.3,1023.3 L480.4,1023.2 L483.4,1023.1 L486.4,1023.0 L489.4,1022.9 L492.5,1022.9 L495.5,1022.8 L498.5,1022.7 L501.5,1022.6 L504.5,1022.6 L507.6,1022.5 L510.6,1022.5 L513.6,1022.4 L516.6,1022.3 L519.6,1022.3 L522.6,1022.2 L525.6,1022.2 L528.6,1022.1 L531.7,1022.1 L534.7,1022.1 L537.7,1022.0 L540.7,1022.0 L543.7,1021.9 L546.7,1021.9 L549.7,1021.9 L552.7,1021.9 L555.7,1021.8 L558.7,1021.8 L561.7,1021.8 L564.7,1021.8 L567.7,1021.7 L570.7,1021.7 L573.7,1021.7 L576.7,1021.7 L579.6,1021.7 L582.6,1021.7 L585.6,1021.6 L588.6,1021.6 L591.6,1021.6 L594.6,1021.6 L597.6,1021.6 L600.6,1021.6 L603.6,1021.6 L606.6,1021.6 L609.6,1021.6 L612.5,1021.6 L615.5,1021.6 L618.5,1021.6 L621.5,1021.6 L624.5,1021.6 L627.5,1021.6 L630.5,1021.6 L633.5,1021.6 L636.4,1021.6 L639.4,1021.6 L642.4,1021.6 L645.4,1021.6 L648.4,1021.6 L651.4,1021.6 L654.4,1021.6 L657.3,1021.6 L660.3,1021.6 L663.3,1021.6 L666.3,1021.6 L669.3,1021.6 L672.3,1021.5 L675.3,1021.5 L678.2,1021.5 L681.2,1021.5 L684.2,1021.5 L687.2,1021.5 L690.2,1021.5 L693.2,1021.5 L696.2,1021.5 L699.1,1021.5 L702.1,1021.5 L705.1,1021.5 L708.1,1021.5 L711.1,1021.4 L714.1,1021.4 L717.1,1021.4 L720.1,1021.4 L723.1,1021.4 L726.0,1021.3 L729.0,1021.3 L732.0,1021.3 L735.0,1021.3 L738.0,1021.2 L741.0,1021.2 L744.0,1021.2 L747.0,1021.1 L750.0,1021.1 L753.0,1021.1 L756.0,1021.0 L759.0,1021.0 L762.0,1020.9 L765.0,1020.9 L768.0,1020.8 L771.0,1020.8 L774.0,1020.7 L777.0,1020.7 L780.0,1020.6 L783.0,1020.6 L786.0,1020.5 L789.0,1020.5 L792.0,1020.4 L795.0,1020.3 L798.0,1020.3 L801.0,1020.2 L804.0,1020.1 L807.0,1020.1 L810.0,1020.0 L813.0,1019.9 L816.0,1019.9 L819.0,1019.8 L822.0,1019.7 L825.0,1019.7 L828.0,1019.6 L831.1,1019.5 L834.1,1019.5 L837.1,1019.4 L840.1,1019.3 L843.1,1019.3 L846.1,1019.2 L849.1,1019.1 L852.1,1019.0 L855.1,1019.0 L858.1,1018.9 L861.1,1018.8 L864.1,1018.8 L867.1,1018.7 L870.1,1018.6 L873.1,1018.6 L876.2,1018.5 L879.2,1018.4 L882.2,1018.4 L885.2,1018.3 L888.2,1018.2 L891.2,1018.2 L894.2,1018.1 L897.2,1018.1 L900.2,1018.0 L903.2,1017.9 L906.2,1017.9 L909.2,1017.8 L912.2,1017.8 L915.2,1017.7 L918.2,1017.7 L921.2,1017.6 L924.2,1017.6 L927.2,1017.5 L930.2,1017.5 L933.2,1017.5 L936.2,1017.4 L939.2,1017.4 L942.2,1017.4 L945.2,1017.3 L948.2,1017.3 L951.2,1017.3 L954.2,1017.2 L957.2,1017.2 L960.2,1017.2 L963.2,1017.2 L966.2,1017.2 L969.2,1017.2 L972.2,1017.1 L975.2,1017.1 L978.2,1017.1 L981.1,1017.1 L984.1,1017.1 L987.1,1017.2 L990.1,1017.2 L993.1,1017.2 L996.1,1017.2 L999.1,1017.2 L1002.0,1017.2 L1005.0,1017.3 L1008.0,1017.3 L1011.0,1017.3 L1014.0,1017.4 L1016.9,1017.4 L1019.9,1017.5 L1022.9,1017.5 L1025.9,1017.6 L1028.8,1017.6 L1031.8,1017.7" stroke="#0000ff" stroke-width="18"/>
<path class="cv" d="M259.1,1482.9 L259.1,1479.9 L259.2,1477.0 L259.2,1474.0 L259.2,1471.0 L259.3,1468.0 L259.3,1465.0 L259.3,1462.1 L259.4,1459.1 L259.4,1456.1 L259.4,1453.1 L259.5,1450.1 L259.5,1447.1 L259.6,1444.1 L259.6,1441.1 L259.7,1438.1 L259.7,1435.1 L259.8,1432.1 L259.8,1429.1 L259.9,1426.1 L259.9,1423.1 L260.0,1420.1 L260.0,1417.1 L260.1,1414.1 L260.2,1411.1 L260.2,1408.1 L260.3,1405.1 L260.4,1402.1 L260.5,1399.1 L260.5,1396.1 L260.6,1393.1 L260.7,1390.0 L260.8,1387.0 L260.9,1384.0 L261.0,1381.0 L261.1,1378.0 L261.2,1375.0 L261.3,1372.0 L261.4,1369.0 L261.5,1366.0 L261.6,1363.0 L261.7,1360.0 L261.8,1357.0 L262.0,1354.0 L262.1,1351.0 L262.2,1348.0 L262.3,1345.1 L262.5,1342.1 L262.6,1339.1 L262.8,1336.1 L262.9,1333.1 L263.1,1330.1 L263.3,1327.1 L263.4,1324.2 L263.6,1321.2 L263.8,1318.2 L264.0,1315.2 L264.1,1312.2 L264.3,1309.3 L264.5,1306.3 L264.7,1303.3 L265.0,1300.3 L265.2,1297.3 L265.4,1294.4 L265.6,1291.4 L265.9,1288.4 L266.1,1285.4 L266.4,1282.5 L266.6,1279.5 L266.9,1276.5 L267.1,1273.5 L267.4,1270.6 L267.7,1267.6 L268.0,1264.6 L268.3,1261.6 L268.6,1258.7 L268.9,1255.7 L269.2,1252.7 L269.6,1249.7 L269.9,1246.7 L270.3,1243.8 L270.6,1240.8 L271.0,1237.8 L271.4,1234.8 L271.7,1231.8 L272.1,1228.8 L272.5,1225.8 L272.9,1222.9 L273.4,1219.9 L273.8,1216.9 L274.2,1213.9 L274.7,1210.9 L275.1,1207.9 L275.6,1204.9 L276.1,1201.9 L276.6,1198.9 L277.1,1195.9 L277.6,1192.9 L278.1,1189.9 L278.7,1186.9 L279.3,1183.9 L279.9,1180.9 L280.6,1178.0 L281.2,1175.0 L282.0,1172.1 L282.7,1169.2 L283.5,1166.3 L284.3,1163.4 L285.2,1160.5 L286.2,1157.7 L287.1,1154.9 L288.2,1152.1 L289.3,1149.4 L290.4,1146.7 L291.6,1144.0 L292.9,1141.3 L294.2,1138.7 L295.6,1136.2 L297.1,1133.6 L298.7,1131.1 L300.3,1128.7 L302.0,1126.3 L303.7,1123.9 L305.5,1121.6 L307.4,1119.3 L309.3,1117.0 L311.2,1114.8 L313.3,1112.6 L315.3,1110.5 L317.4,1108.4 L319.6,1106.3 L321.8,1104.3 L324.0,1102.3 L326.3,1100.4 L328.6,1098.5 L331.0,1096.6 L333.3,1094.8 L335.7,1093.0 L338.2,1091.2 L340.6,1089.5 L343.1,1087.8 L345.6,1086.2 L348.1,1084.6 L350.6,1083.0 L353.2,1081.5 L355.8,1080.0 L358.4,1078.5 L361.0,1077.1 L363.6,1075.7 L366.3,1074.4 L368.9,1073.0 L371.6,1071.7 L374.3,1070.5 L377.0,1069.2 L379.8,1068.0 L382.5,1066.9 L385.3,1065.7 L388.1,1064.6 L390.8,1063.5 L393.6,1062.5 L396.5,1061.5 L399.3,1060.5 L402.1,1059.5 L405.0,1058.5 L407.8,1057.6 L410.7,1056.7 L413.6,1055.9 L416.5,1055.0 L419.4,1054.2 L422.3,1053.4 L425.2,1052.6 L428.1,1051.9 L431.0,1051.1 L434.0,1050.4 L436.9,1049.7 L439.8,1049.1 L442.8,1048.4 L445.7,1047.8 L448.7,1047.2 L451.7,1046.6 L454.6,1046.0 L457.6,1045.4 L460.6,1044.9 L463.6,1044.4 L466.5,1043.9 L469.5,1043.4 L472.5,1042.9 L475.5,1042.4 L478.5,1042.0 L481.4,1041.6 L484.4,1041.1 L487.4,1040.7 L490.4,1040.3 L493.4,1040.0 L496.3,1039.6 L499.3,1039.2 L502.3,1038.9 L505.3,1038.6 L508.3,1038.2 L511.3,1037.9 L514.2,1037.7 L517.2,1037.4 L520.2,1037.1 L523.2,1036.8 L526.2,1036.6 L529.2,1036.4 L532.1,1036.1 L535.1,1035.9 L538.1,1035.7 L541.1,1035.5 L544.1,1035.4 L547.1,1035.2 L550.1,1035.0 L553.0,1034.9 L556.0,1034.8 L559.0,1034.6 L562.0,1034.5 L565.0,1034.4 L568.0,1034.3 L571.0,1034.2 L574.0,1034.1 L576.9,1034.1 L579.9,1034.0 L582.9,1033.9 L585.9,1033.9 L588.9,1033.8 L591.9,1033.8 L594.9,1033.8 L597.9,1033.8 L600.8,1033.8 L603.8,1033.8 L606.8,1033.8 L609.8,1033.8 L612.8,1033.8 L615.8,1033.8 L618.8,1033.9 L621.8,1033.9 L624.8,1034.0 L627.8,1034.0 L630.7,1034.1 L633.7,1034.1 L636.7,1034.2 L639.7,1034.3 L642.7,1034.4 L645.7,1034.4 L648.7,1034.5 L651.7,1034.6 L654.7,1034.7 L657.7,1034.8 L660.7,1034.9 L663.6,1035.0 L666.6,1035.2 L669.6,1035.3 L672.6,1035.4 L675.6,1035.5 L678.6,1035.7 L681.6,1035.8 L684.6,1035.9 L687.6,1036.1 L690.6,1036.2 L693.6,1036.4 L696.6,1036.5 L699.6,1036.7 L702.6,1036.8 L705.5,1037.0 L708.5,1037.1 L711.5,1037.3 L714.5,1037.4 L717.5,1037.6 L720.5,1037.8 L723.5,1037.9 L726.5,1038.1 L729.5,1038.3 L732.5,1038.4 L735.5,1038.6 L738.5,1038.7 L741.5,1038.9 L744.5,1039.1 L747.5,1039.2 L750.5,1039.4 L753.5,1039.6 L756.4,1039.7 L759.4,1039.9 L762.4,1040.0 L765.4,1040.2 L768.4,1040.4 L771.4,1040.5 L774.4,1040.7 L777.4,1040.8 L780.4,1041.0 L783.4,1041.1 L786.4,1041.3 L789.4,1041.4 L792.4,1041.6 L795.4,1041.8 L798.4,1041.9 L801.4,1042.1 L804.4,1042.2 L807.4,1042.4 L810.4,1042.5 L813.4,1042.7 L816.4,1042.8 L819.4,1042.9 L822.4,1043.1 L825.3,1043.2 L828.3,1043.4 L831.3,1043.5 L834.3,1043.7 L837.3,1043.8 L840.3,1044.0 L843.3,1044.1 L846.3,1044.2 L849.3,1044.4 L852.3,1044.5 L855.3,1044.7 L858.3,1044.8 L861.3,1045.0 L864.3,1045.1 L867.3,1045.2 L870.3,1045.4 L873.3,1045.5 L876.3,1045.6 L879.3,1045.8 L882.3,1045.9 L885.3,1046.1 L888.3,1046.2 L891.3,1046.3 L894.3,1046.5 L897.2,1046.6 L900.2,1046.7 L903.2,1046.9 L906.2,1047.0 L909.2,1047.1 L912.2,1047.3 L915.2,1047.4 L918.2,1047.5 L921.2,1047.7 L924.2,1047.8 L927.2,1047.9 L930.2,1048.1 L933.2,1048.2 L936.2,1048.3 L939.2,1048.5 L942.2,1048.6 L945.2,1048.7 L948.2,1048.9 L951.2,1049.0 L954.1,1049.1 L957.1,1049.3 L960.1,1049.4 L963.1,1049.5 L966.1,1049.7 L969.1,1049.8 L972.1,1049.9 L975.1,1050.1 L978.1,1050.2 L981.1,1050.3 L984.1,1050.4 L987.1,1050.6 L990.1,1050.7 L993.1,1050.8 L996.0,1051.0 L999.0,1051.1 L1002.0,1051.2 L1005.0,1051.4 L1008.0,1051.5 L1011.0,1051.6 L1014.0,1051.8 L1017.0,1051.9 L1020.0,1052.0 L1023.0,1052.2 L1026.0,1052.3 L1028.9,1052.4 L1031.9,1052.5" stroke="#ff00ff" stroke-width="18"/>
</g>
<rect class="ax" x="220.5" y="895.2" width="804" height="657.6"/>
<path class="ax" style="stroke-linecap:round" d="M258.79,1553.8 v11.6 M450.21,1553.8 v11.6 M641.64,1553.8 v11.6 M833.07,1553.8 v11.6 M1024.5,1553.8 v11.6 M354.5,1553.8 v5.9 M545.93,1553.8 v5.9 M737.36,1553.8 v5.9 M928.79,1553.8 v5.9 M219.5,895.2 h-11.6 M219.5,1026.72 h-11.6 M219.5,1158.24 h-11.6 M219.5,1289.76 h-11.6 M219.5,1421.28 h-11.6 M219.5,1552.8 h-11.6 M219.5,1487.04 h-5.9 M219.5,1355.52 h-5.9 M219.5,1224 h-5.9 M219.5,1092.48 h-5.9 M219.5,960.96 h-5.9"/>
<g class="tk" text-anchor="middle">
<text transform="translate(258.79,1613.5) scale(0.99,1.03)">0</text>
<text transform="translate(450.21,1613.5) scale(0.99,1.03)">25</text>
<text transform="translate(641.64,1613.5) scale(0.99,1.03)">50</text>
<text transform="translate(833.07,1613.5) scale(0.99,1.03)">75</text>
<text transform="translate(1024.5,1613.5) scale(0.99,1.03)">100</text>
</g>
<g class="tk" text-anchor="end">
<text transform="translate(200,910.9) scale(0.99,1.03)">0</text>
<text transform="translate(200,1042.42) scale(0.99,1.03)">-10</text>
<text transform="translate(200,1173.94) scale(0.99,1.03)">-20</text>
<text transform="translate(200,1305.46) scale(0.99,1.03)">-30</text>
<text transform="translate(200,1436.98) scale(0.99,1.03)">-40</text>
<text transform="translate(200,1568.5) scale(0.99,1.03)">-50</text>
</g>
<text class="tt" text-anchor="middle" transform="translate(623,1681.8) scale(0.993,1.01)">Time / s</text>
<text class="tt" text-anchor="middle" transform="translate(108.3,1235) rotate(-90) scale(1.004,1.03)">Current / <tspan class="mu" dx="-4.6" textLength="45" lengthAdjust="spacingAndGlyphs">μ</tspan><tspan dx="-2.9">A</tspan></text>
<text class="pl" transform="translate(418.8,1450.5) scale(1.0,1.0)">c<tspan class="pr">)</tspan></text>
</g>
<g id="panel-d">
<defs><clipPath id="clip-d"><rect x="1229" y="895.2" width="804.8" height="657.6"/></clipPath></defs>
<g clip-path="url(#clip-d)">
<path class="cv" d="M1259.8,1484.5 L1259.8,1481.4 L1259.8,1478.4 L1259.8,1475.3 L1259.7,1472.3 L1259.7,1469.2 L1259.7,1466.2 L1259.7,1463.1 L1259.7,1460.1 L1259.7,1457.0 L1259.7,1454.0 L1259.7,1451.0 L1259.7,1448.0 L1259.7,1444.9 L1259.7,1441.9 L1259.8,1438.9 L1259.8,1435.9 L1259.8,1432.8 L1259.8,1429.8 L1259.8,1426.8 L1259.8,1423.8 L1259.8,1420.8 L1259.8,1417.8 L1259.9,1414.8 L1259.9,1411.8 L1259.9,1408.8 L1259.9,1405.8 L1259.9,1402.8 L1260.0,1399.8 L1260.0,1396.8 L1260.0,1393.8 L1260.1,1390.8 L1260.1,1387.8 L1260.1,1384.8 L1260.2,1381.9 L1260.2,1378.9 L1260.2,1375.9 L1260.3,1372.9 L1260.3,1369.9 L1260.4,1366.9 L1260.4,1364.0 L1260.5,1361.0 L1260.5,1358.0 L1260.6,1355.0 L1260.6,1352.0 L1260.7,1349.1 L1260.7,1346.1 L1260.8,1343.1 L1260.8,1340.1 L1260.9,1337.2 L1261.0,1334.2 L1261.0,1331.2 L1261.1,1328.2 L1261.2,1325.3 L1261.3,1322.3 L1261.3,1319.3 L1261.4,1316.4 L1261.5,1313.4 L1261.6,1310.4 L1261.7,1307.4 L1261.7,1304.5 L1261.8,1301.5 L1261.9,1298.5 L1262.0,1295.5 L1262.1,1292.6 L1262.2,1289.6 L1262.3,1286.6 L1262.4,1283.6 L1262.5,1280.7 L1262.6,1277.7 L1262.7,1274.7 L1262.8,1271.7 L1262.9,1268.8 L1263.1,1265.8 L1263.2,1262.8 L1263.3,1259.8 L1263.4,1256.8 L1263.6,1253.8 L1263.7,1250.9 L1263.8,1247.9 L1263.9,1244.9 L1264.1,1241.9 L1264.2,1238.9 L1264.4,1235.9 L1264.5,1232.9 L1264.7,1229.9 L1264.8,1226.9 L1265.0,1223.9 L1265.1,1220.9 L1265.3,1217.9 L1265.4,1214.9 L1265.6,1211.9 L1265.8,1208.9 L1265.9,1205.9 L1266.1,1202.9 L1266.3,1199.9 L1266.5,1196.8 L1266.6,1193.8 L1266.8,1190.8 L1267.0,1187.8 L1267.2,1184.7 L1267.4,1181.7 L1267.6,1178.7 L1267.8,1175.6 L1268.0,1172.6 L1268.2,1169.6 L1268.4,1166.5 L1268.6,1163.5 L1268.8,1160.4 L1269.0,1157.4 L1269.3,1154.3 L1269.5,1151.3 L1269.8,1148.3 L1270.0,1145.2 L1270.3,1142.2 L1270.6,1139.1 L1270.9,1136.1 L1271.3,1133.1 L1271.6,1130.1 L1272.0,1127.1 L1272.4,1124.1 L1272.8,1121.1 L1273.2,1118.1 L1273.7,1115.1 L1274.2,1112.2 L1274.7,1109.2 L1275.3,1106.3 L1275.9,1103.4 L1276.5,1100.5 L1277.2,1097.6 L1277.9,1094.7 L1278.6,1091.8 L1279.4,1089.0 L1280.2,1086.2 L1281.0,1083.4 L1281.9,1080.6 L1282.9,1077.8 L1283.8,1075.1 L1284.9,1072.4 L1286.0,1069.7 L1287.1,1067.0 L1288.3,1064.4 L1289.5,1061.8 L1290.8,1059.2 L1292.1,1056.6 L1293.6,1054.1 L1295.0,1051.6 L1296.5,1049.1 L1298.1,1046.6 L1299.8,1044.2 L1301.5,1041.8 L1303.3,1039.5 L1305.1,1037.2 L1307.0,1034.9 L1309.0,1032.7 L1311.0,1030.4 L1313.2,1028.3 L1315.4,1026.1 L1317.6,1024.1 L1319.9,1022.0 L1322.3,1020.1 L1324.8,1018.2 L1327.3,1016.3 L1329.8,1014.6 L1332.4,1012.9 L1335.0,1011.3 L1337.7,1009.8 L1340.4,1008.4 L1343.2,1007.1 L1346.0,1005.9 L1348.8,1004.9 L1351.6,1003.9 L1354.4,1003.1 L1357.3,1002.4 L1360.2,1001.7 L1363.1,1001.2 L1366.0,1000.8 L1368.9,1000.4 L1371.9,1000.0 L1374.8,999.7 L1377.8,999.5 L1380.7,999.2 L1383.7,999.0 L1386.6,998.8 L1389.6,998.6 L1392.6,998.5 L1395.5,998.3 L1398.5,998.2 L1401.5,998.1 L1404.5,998.0 L1407.5,997.9 L1410.4,997.8 L1413.4,997.7 L1416.4,997.7 L1419.4,997.6 L1422.4,997.6 L1425.4,997.5 L1428.4,997.5 L1431.4,997.5 L1434.4,997.4 L1437.4,997.4 L1440.4,997.4 L1443.4,997.3 L1446.4,997.3 L1449.3,997.3 L1452.3,997.2 L1455.3,997.2 L1458.3,997.1 L1461.3,997.1 L1464.3,997.0 L1467.3,996.9 L1470.3,996.9 L1473.3,996.8 L1476.3,996.7 L1479.3,996.6 L1482.3,996.5 L1485.3,996.4 L1488.3,996.3 L1491.3,996.2 L1494.3,996.1 L1497.3,996.0 L1500.3,995.9 L1503.3,995.8 L1506.2,995.6 L1509.2,995.5 L1512.2,995.4 L1515.2,995.3 L1518.2,995.1 L1521.2,995.0 L1524.2,994.8 L1527.2,994.7 L1530.2,994.5 L1533.2,994.4 L1536.2,994.2 L1539.2,994.1 L1542.1,993.9 L1545.1,993.7 L1548.1,993.6 L1551.1,993.4 L1554.1,993.2 L1557.1,993.0 L1560.1,992.9 L1563.1,992.7 L1566.1,992.5 L1569.1,992.3 L1572.0,992.1 L1575.0,992.0 L1578.0,991.8 L1581.0,991.6 L1584.0,991.4 L1587.0,991.2 L1590.0,991.0 L1593.0,990.8 L1596.0,990.6 L1599.0,990.4 L1601.9,990.2 L1604.9,990.0 L1607.9,989.8 L1610.9,989.6 L1613.9,989.4 L1616.9,989.3 L1619.9,989.1 L1622.9,988.9 L1625.9,988.7 L1628.8,988.5 L1631.8,988.3 L1634.8,988.1 L1637.8,987.9 L1640.8,987.7 L1643.8,987.5 L1646.8,987.3 L1649.8,987.1 L1652.8,986.9 L1655.7,986.7 L1658.7,986.5 L1661.7,986.3 L1664.7,986.1 L1667.7,985.9 L1670.7,985.8 L1673.7,985.6 L1676.7,985.4 L1679.7,985.2 L1682.7,985.0 L1685.6,984.8 L1688.6,984.7 L1691.6,984.5 L1694.6,984.3 L1697.6,984.2 L1700.6,984.0 L1703.6,983.8 L1706.6,983.7 L1709.6,983.5 L1712.6,983.3 L1715.5,983.2 L1718.5,983.0 L1721.5,982.9 L1724.5,982.8 L1727.5,982.6 L1730.5,982.5 L1733.5,982.3 L1736.5,982.2 L1739.5,982.1 L1742.5,982.0 L1745.5,981.8 L1748.5,981.7 L1751.4,981.6 L1754.4,981.5 L1757.4,981.4 L1760.4,981.3 L1763.4,981.2 L1766.4,981.1 L1769.4,981.0 L1772.4,981.0 L1775.4,980.9 L1778.4,980.8 L1781.4,980.7 L1784.4,980.7 L1787.4,980.6 L1790.4,980.5 L1793.4,980.5 L1796.4,980.4 L1799.3,980.4 L1802.3,980.3 L1805.3,980.3 L1808.3,980.2 L1811.3,980.2 L1814.3,980.1 L1817.3,980.1 L1820.3,980.1 L1823.3,980.0 L1826.3,980.0 L1829.3,980.0 L1832.3,979.9 L1835.3,979.9 L1838.3,979.9 L1841.3,979.9 L1844.3,979.9 L1847.3,979.8 L1850.3,979.8 L1853.3,979.8 L1856.3,979.8 L1859.3,979.8 L1862.3,979.8 L1865.3,979.8 L1868.3,979.8 L1871.3,979.8 L1874.3,979.7 L1877.2,979.7 L1880.2,979.7 L1883.2,979.7 L1886.2,979.7 L1889.2,979.7 L1892.2,979.7 L1895.2,979.7 L1898.2,979.7 L1901.2,979.7 L1904.2,979.7 L1907.2,979.7 L1910.2,979.7 L1913.2,979.7 L1916.2,979.7 L1919.2,979.7 L1922.2,979.7 L1925.2,979.7 L1928.2,979.7 L1931.2,979.7 L1934.2,979.7 L1937.2,979.7 L1940.2,979.6 L1943.2,979.6 L1946.2,979.6 L1949.2,979.6 L1952.2,979.6 L1955.2,979.6 L1958.2,979.6 L1961.1,979.5 L1964.1,979.5 L1967.1,979.5 L1970.1,979.5 L1973.1,979.5 L1976.1,979.4 L1979.1,979.4 L1982.1,979.4 L1985.1,979.3 L1988.1,979.3 L1991.1,979.3 L1994.1,979.2 L1997.1,979.2 L2000.1,979.1 L2003.1,979.1 L2006.1,979.0 L2009.1,979.0 L2012.1,978.9 L2015.0,978.8 L2018.0,978.8 L2021.0,978.7 L2024.0,978.6 L2027.0,978.6 L2030.0,978.5 L2033.0,978.4 L2036.0,978.3 L2039.0,978.2 L2042.0,978.1" stroke="#000000" stroke-width="18"/>
<path class="cv" d="M1259.6,1480.1 L1259.6,1477.1 L1259.5,1474.1 L1259.5,1471.1 L1259.5,1468.1 L1259.5,1465.1 L1259.4,1462.0 L1259.4,1459.0 L1259.4,1456.0 L1259.4,1453.0 L1259.4,1450.0 L1259.4,1447.0 L1259.4,1444.0 L1259.3,1441.0 L1259.3,1438.0 L1259.3,1435.0 L1259.4,1432.0 L1259.4,1429.0 L1259.4,1426.0 L1259.4,1423.0 L1259.4,1420.0 L1259.4,1417.0 L1259.4,1414.0 L1259.4,1411.0 L1259.5,1408.0 L1259.5,1405.0 L1259.5,1402.1 L1259.5,1399.1 L1259.6,1396.1 L1259.6,1393.1 L1259.6,1390.1 L1259.7,1387.1 L1259.7,1384.1 L1259.8,1381.1 L1259.8,1378.1 L1259.9,1375.1 L1259.9,1372.1 L1260.0,1369.1 L1260.0,1366.1 L1260.1,1363.1 L1260.1,1360.1 L1260.2,1357.1 L1260.2,1354.1 L1260.3,1351.1 L1260.4,1348.2 L1260.4,1345.2 L1260.5,1342.2 L1260.6,1339.2 L1260.7,1336.2 L1260.7,1333.2 L1260.8,1330.2 L1260.9,1327.2 L1261.0,1324.2 L1261.1,1321.2 L1261.2,1318.2 L1261.2,1315.2 L1261.3,1312.2 L1261.4,1309.3 L1261.5,1306.3 L1261.6,1303.3 L1261.7,1300.3 L1261.8,1297.3 L1261.9,1294.3 L1262.0,1291.3 L1262.1,1288.3 L1262.2,1285.3 L1262.3,1282.3 L1262.4,1279.3 L1262.6,1276.4 L1262.7,1273.4 L1262.8,1270.4 L1262.9,1267.4 L1263.0,1264.4 L1263.1,1261.4 L1263.3,1258.4 L1263.4,1255.4 L1263.5,1252.4 L1263.6,1249.4 L1263.8,1246.4 L1263.9,1243.4 L1264.0,1240.5 L1264.2,1237.5 L1264.3,1234.5 L1264.4,1231.5 L1264.6,1228.5 L1264.7,1225.5 L1264.9,1222.5 L1265.0,1219.5 L1265.1,1216.5 L1265.3,1213.5 L1265.4,1210.5 L1265.6,1207.5 L1265.7,1204.5 L1265.9,1201.5 L1266.0,1198.5 L1266.2,1195.6 L1266.4,1192.6 L1266.5,1189.6 L1266.7,1186.6 L1266.8,1183.6 L1267.0,1180.6 L1267.2,1177.6 L1267.3,1174.6 L1267.5,1171.6 L1267.7,1168.6 L1267.8,1165.6 L1268.0,1162.6 L1268.2,1159.6 L1268.4,1156.6 L1268.5,1153.6 L1268.7,1150.6 L1268.9,1147.6 L1269.2,1144.6 L1269.4,1141.6 L1269.7,1138.6 L1269.9,1135.7 L1270.2,1132.7 L1270.5,1129.7 L1270.9,1126.7 L1271.2,1123.8 L1271.6,1120.8 L1272.0,1117.8 L1272.5,1114.9 L1273.0,1111.9 L1273.5,1109.0 L1274.0,1106.0 L1274.6,1103.1 L1275.2,1100.2 L1275.9,1097.2 L1276.6,1094.3 L1277.3,1091.4 L1278.1,1088.5 L1278.9,1085.6 L1279.8,1082.7 L1280.8,1079.9 L1281.7,1077.0 L1282.8,1074.1 L1283.9,1071.3 L1285.0,1068.5 L1286.2,1065.7 L1287.4,1062.9 L1288.7,1060.2 L1290.0,1057.5 L1291.4,1054.8 L1292.9,1052.2 L1294.4,1049.5 L1295.9,1047.0 L1297.6,1044.4 L1299.2,1041.9 L1300.9,1039.5 L1302.7,1037.1 L1304.6,1034.7 L1306.5,1032.4 L1308.4,1030.2 L1310.4,1028.0 L1312.5,1025.9 L1314.6,1023.8 L1316.8,1021.8 L1319.0,1019.9 L1321.3,1018.0 L1323.7,1016.2 L1326.1,1014.5 L1328.6,1012.8 L1331.1,1011.2 L1333.6,1009.7 L1336.2,1008.2 L1338.8,1006.8 L1341.5,1005.5 L1344.2,1004.3 L1346.9,1003.1 L1349.7,1002.0 L1352.5,1001.0 L1355.3,1000.0 L1358.1,999.2 L1361.0,998.4 L1363.9,997.7 L1366.8,997.1 L1369.7,996.6 L1372.6,996.1 L1375.6,995.7 L1378.5,995.4 L1381.5,995.2 L1384.4,995.1 L1387.4,995.1 L1390.4,995.1 L1393.3,995.2 L1396.3,995.4 L1399.3,995.6 L1402.3,995.9 L1405.2,996.2 L1408.2,996.6 L1411.2,997.0 L1414.2,997.4 L1417.2,997.9 L1420.2,998.3 L1423.2,998.8 L1426.2,999.4 L1429.2,999.9 L1432.2,1000.4 L1435.2,1000.9 L1438.2,1001.5 L1441.2,1002.0 L1444.2,1002.4 L1447.2,1002.9 L1450.2,1003.4 L1453.2,1003.8 L1456.2,1004.1 L1459.2,1004.5 L1462.2,1004.8 L1465.2,1005.1 L1468.1,1005.3 L1471.1,1005.6 L1474.1,1005.8 L1477.1,1005.9 L1480.1,1006.1 L1483.1,1006.2 L1486.0,1006.3 L1489.0,1006.3 L1492.0,1006.4 L1495.0,1006.4 L1497.9,1006.4 L1500.9,1006.4 L1503.9,1006.3 L1506.9,1006.3 L1509.8,1006.2 L1512.8,1006.1 L1515.8,1006.0 L1518.7,1005.9 L1521.7,1005.7 L1524.7,1005.6 L1527.6,1005.4 L1530.6,1005.2 L1533.6,1005.0 L1536.6,1004.8 L1539.5,1004.6 L1542.5,1004.4 L1545.5,1004.1 L1548.4,1003.9 L1551.4,1003.6 L1554.4,1003.4 L1557.3,1003.1 L1560.3,1002.9 L1563.3,1002.6 L1566.2,1002.3 L1569.2,1002.0 L1572.2,1001.8 L1575.2,1001.5 L1578.1,1001.2 L1581.1,1000.9 L1584.1,1000.7 L1587.0,1000.4 L1590.0,1000.1 L1593.0,999.8 L1596.0,999.6 L1598.9,999.3 L1601.9,999.1 L1604.9,998.8 L1607.9,998.6 L1610.9,998.4 L1613.8,998.2 L1616.8,997.9 L1619.8,997.7 L1622.8,997.5 L1625.8,997.4 L1628.8,997.2 L1631.8,997.0 L1634.8,996.8 L1637.7,996.7 L1640.7,996.5 L1643.7,996.4 L1646.7,996.2 L1649.7,996.1 L1652.7,995.9 L1655.7,995.8 L1658.7,995.7 L1661.7,995.5 L1664.7,995.4 L1667.7,995.3 L1670.7,995.2 L1673.7,995.1 L1676.7,995.0 L1679.7,994.9 L1682.7,994.8 L1685.7,994.7 L1688.7,994.6 L1691.7,994.5 L1694.7,994.4 L1697.7,994.3 L1700.7,994.2 L1703.7,994.1 L1706.7,994.0 L1709.7,993.9 L1712.7,993.8 L1715.7,993.7 L1718.7,993.6 L1721.7,993.5 L1724.7,993.5 L1727.7,993.4 L1730.7,993.3 L1733.7,993.2 L1736.7,993.1 L1739.7,993.0 L1742.7,992.9 L1745.7,992.8 L1748.7,992.6 L1751.7,992.5 L1754.7,992.4 L1757.7,992.3 L1760.7,992.2 L1763.7,992.1 L1766.6,991.9 L1769.6,991.8 L1772.6,991.7 L1775.6,991.6 L1778.6,991.4 L1781.6,991.3 L1784.6,991.1 L1787.6,991.0 L1790.6,990.9 L1793.6,990.7 L1796.6,990.6 L1799.6,990.4 L1802.6,990.3 L1805.6,990.1 L1808.6,990.0 L1811.5,989.8 L1814.5,989.7 L1817.5,989.5 L1820.5,989.4 L1823.5,989.2 L1826.5,989.1 L1829.5,988.9 L1832.5,988.7 L1835.5,988.6 L1838.5,988.4 L1841.4,988.3 L1844.4,988.1 L1847.4,987.9 L1850.4,987.8 L1853.4,987.6 L1856.4,987.5 L1859.4,987.3 L1862.4,987.1 L1865.4,987.0 L1868.4,986.8 L1871.3,986.7 L1874.3,986.5 L1877.3,986.4 L1880.3,986.2 L1883.3,986.1 L1886.3,985.9 L1889.3,985.8 L1892.3,985.6 L1895.3,985.5 L1898.2,985.3 L1901.2,985.2 L1904.2,985.0 L1907.2,984.9 L1910.2,984.7 L1913.2,984.6 L1916.2,984.5 L1919.2,984.3 L1922.2,984.2 L1925.2,984.1 L1928.2,983.9 L1931.1,983.8 L1934.1,983.7 L1937.1,983.6 L1940.1,983.5 L1943.1,983.3 L1946.1,983.2 L1949.1,983.1 L1952.1,983.0 L1955.1,982.9 L1958.1,982.8 L1961.1,982.7 L1964.1,982.6 L1967.1,982.6 L1970.1,982.5 L1973.1,982.4 L1976.0,982.3 L1979.0,982.2 L1982.0,982.2 L1985.0,982.1 L1988.0,982.0 L1991.0,982.0 L1994.0,981.9 L1997.0,981.9 L2000.0,981.9 L2003.0,981.8 L2006.0,981.8 L2009.0,981.8 L2012.0,981.7 L2015.0,981.7 L2018.0,981.7 L2021.0,981.7 L2024.0,981.7 L2027.0,981.7 L2030.0,981.7 L2033.0,981.7 L2036.1,981.7 L2039.1,981.8 L2042.1,981.8" stroke="#ff0000" stroke-width="18"/>
<path class="cv" d="M1259.8,1478.1 L1259.8,1475.1 L1259.7,1472.1 L1259.7,1469.1 L1259.7,1466.1 L1259.6,1463.1 L1259.6,1460.0 L1259.6,1457.0 L1259.6,1454.0 L1259.6,1451.0 L1259.6,1448.0 L1259.6,1445.0 L1259.5,1442.0 L1259.5,1439.0 L1259.5,1436.0 L1259.5,1433.0 L1259.6,1430.0 L1259.6,1427.0 L1259.6,1424.0 L1259.6,1421.0 L1259.6,1418.0 L1259.6,1415.0 L1259.7,1412.0 L1259.7,1409.0 L1259.7,1406.0 L1259.7,1403.0 L1259.8,1400.0 L1259.8,1397.0 L1259.8,1394.0 L1259.9,1391.0 L1259.9,1388.0 L1260.0,1385.0 L1260.0,1382.0 L1260.1,1379.0 L1260.1,1376.0 L1260.2,1373.0 L1260.3,1370.0 L1260.3,1367.0 L1260.4,1364.0 L1260.4,1361.0 L1260.5,1358.0 L1260.6,1355.0 L1260.7,1352.0 L1260.7,1349.1 L1260.8,1346.1 L1260.9,1343.1 L1261.0,1340.1 L1261.1,1337.1 L1261.1,1334.1 L1261.2,1331.1 L1261.3,1328.1 L1261.4,1325.1 L1261.5,1322.1 L1261.6,1319.1 L1261.7,1316.2 L1261.8,1313.2 L1261.9,1310.2 L1262.0,1307.2 L1262.1,1304.2 L1262.2,1301.2 L1262.3,1298.2 L1262.4,1295.2 L1262.6,1292.2 L1262.7,1289.2 L1262.8,1286.2 L1262.9,1283.2 L1263.0,1280.3 L1263.2,1277.3 L1263.3,1274.3 L1263.4,1271.3 L1263.5,1268.3 L1263.7,1265.3 L1263.8,1262.3 L1263.9,1259.3 L1264.1,1256.3 L1264.2,1253.3 L1264.3,1250.3 L1264.5,1247.3 L1264.6,1244.3 L1264.8,1241.3 L1264.9,1238.3 L1265.1,1235.4 L1265.2,1232.4 L1265.3,1229.4 L1265.5,1226.4 L1265.6,1223.4 L1265.8,1220.4 L1266.0,1217.4 L1266.1,1214.4 L1266.3,1211.4 L1266.4,1208.4 L1266.6,1205.4 L1266.7,1202.4 L1266.9,1199.4 L1267.1,1196.4 L1267.2,1193.4 L1267.4,1190.3 L1267.5,1187.3 L1267.7,1184.3 L1267.9,1181.3 L1268.0,1178.3 L1268.2,1175.3 L1268.4,1172.3 L1268.6,1169.3 L1268.7,1166.3 L1268.9,1163.3 L1269.1,1160.3 L1269.3,1157.3 L1269.5,1154.3 L1269.8,1151.3 L1270.0,1148.3 L1270.3,1145.3 L1270.5,1142.3 L1270.8,1139.3 L1271.1,1136.3 L1271.5,1133.3 L1271.8,1130.3 L1272.2,1127.4 L1272.6,1124.4 L1273.1,1121.4 L1273.5,1118.5 L1274.0,1115.5 L1274.5,1112.6 L1275.1,1109.6 L1275.7,1106.7 L1276.3,1103.8 L1277.0,1100.8 L1277.7,1097.9 L1278.4,1095.0 L1279.2,1092.1 L1280.1,1089.3 L1280.9,1086.4 L1281.8,1083.5 L1282.8,1080.7 L1283.8,1077.9 L1284.9,1075.1 L1286.0,1072.3 L1287.2,1069.6 L1288.4,1066.8 L1289.7,1064.2 L1291.0,1061.5 L1292.4,1058.9 L1293.8,1056.3 L1295.3,1053.8 L1296.9,1051.3 L1298.5,1048.8 L1300.2,1046.4 L1301.9,1044.0 L1303.7,1041.7 L1305.6,1039.4 L1307.5,1037.2 L1309.5,1035.1 L1311.6,1033.0 L1313.8,1030.9 L1316.0,1029.0 L1318.3,1027.0 L1320.6,1025.2 L1323.0,1023.4 L1325.5,1021.7 L1328.0,1020.0 L1330.5,1018.4 L1333.2,1016.9 L1335.8,1015.5 L1338.5,1014.1 L1341.2,1012.7 L1344.0,1011.5 L1346.8,1010.3 L1349.7,1009.2 L1352.5,1008.1 L1355.4,1007.1 L1358.3,1006.2 L1361.3,1005.4 L1364.2,1004.6 L1367.2,1003.9 L1370.1,1003.3 L1373.1,1002.7 L1376.1,1002.2 L1379.1,1001.8 L1382.1,1001.5 L1385.1,1001.2 L1388.0,1001.0 L1391.0,1000.9 L1394.0,1000.8 L1397.0,1000.8 L1400.0,1000.9 L1402.9,1001.0 L1405.9,1001.2 L1408.9,1001.4 L1411.9,1001.7 L1414.8,1002.0 L1417.8,1002.4 L1420.7,1002.8 L1423.7,1003.2 L1426.6,1003.7 L1429.6,1004.2 L1432.5,1004.7 L1435.4,1005.3 L1438.4,1005.8 L1441.3,1006.4 L1444.3,1006.9 L1447.2,1007.5 L1450.1,1008.0 L1453.1,1008.6 L1456.0,1009.1 L1459.0,1009.6 L1461.9,1010.1 L1464.9,1010.6 L1467.8,1011.0 L1470.8,1011.5 L1473.7,1011.9 L1476.7,1012.3 L1479.6,1012.7 L1482.6,1013.1 L1485.5,1013.5 L1488.5,1013.8 L1491.5,1014.1 L1494.4,1014.4 L1497.4,1014.7 L1500.4,1014.9 L1503.3,1015.1 L1506.3,1015.3 L1509.3,1015.5 L1512.2,1015.6 L1515.2,1015.7 L1518.2,1015.8 L1521.1,1015.8 L1524.1,1015.8 L1527.1,1015.8 L1530.1,1015.7 L1533.0,1015.6 L1536.0,1015.5 L1539.0,1015.3 L1542.0,1015.1 L1544.9,1014.9 L1547.9,1014.6 L1550.9,1014.4 L1553.9,1014.1 L1556.9,1013.8 L1559.9,1013.4 L1562.8,1013.1 L1565.8,1012.7 L1568.8,1012.3 L1571.8,1012.0 L1574.8,1011.6 L1577.8,1011.2 L1580.7,1010.8 L1583.7,1010.4 L1586.7,1010.0 L1589.7,1009.6 L1592.7,1009.2 L1595.7,1008.8 L1598.7,1008.4 L1601.7,1008.1 L1604.7,1007.7 L1607.6,1007.4 L1610.6,1007.0 L1613.6,1006.7 L1616.6,1006.4 L1619.6,1006.1 L1622.6,1005.8 L1625.6,1005.6 L1628.6,1005.3 L1631.6,1005.1 L1634.6,1004.8 L1637.5,1004.6 L1640.5,1004.4 L1643.5,1004.2 L1646.5,1004.0 L1649.5,1003.8 L1652.5,1003.6 L1655.5,1003.4 L1658.5,1003.2 L1661.5,1003.1 L1664.5,1002.9 L1667.5,1002.8 L1670.5,1002.6 L1673.5,1002.5 L1676.5,1002.4 L1679.4,1002.2 L1682.4,1002.1 L1685.4,1002.0 L1688.4,1001.9 L1691.4,1001.8 L1694.4,1001.7 L1697.4,1001.6 L1700.4,1001.5 L1703.4,1001.4 L1706.4,1001.3 L1709.4,1001.2 L1712.4,1001.1 L1715.4,1001.0 L1718.4,1000.9 L1721.4,1000.9 L1724.4,1000.8 L1727.4,1000.7 L1730.4,1000.6 L1733.4,1000.5 L1736.4,1000.4 L1739.3,1000.3 L1742.3,1000.3 L1745.3,1000.2 L1748.3,1000.1 L1751.3,1000.0 L1754.3,999.9 L1757.3,999.8 L1760.3,999.7 L1763.3,999.6 L1766.3,999.5 L1769.3,999.4 L1772.3,999.3 L1775.3,999.2 L1778.3,999.1 L1781.3,999.0 L1784.3,998.9 L1787.3,998.8 L1790.3,998.7 L1793.3,998.6 L1796.3,998.4 L1799.3,998.3 L1802.3,998.2 L1805.3,998.1 L1808.3,998.0 L1811.3,997.9 L1814.2,997.7 L1817.2,997.6 L1820.2,997.5 L1823.2,997.4 L1826.2,997.3 L1829.2,997.1 L1832.2,997.0 L1835.2,996.9 L1838.2,996.8 L1841.2,996.7 L1844.2,996.5 L1847.2,996.4 L1850.2,996.3 L1853.2,996.2 L1856.2,996.0 L1859.2,995.9 L1862.2,995.8 L1865.2,995.7 L1868.2,995.5 L1871.2,995.4 L1874.2,995.3 L1877.2,995.2 L1880.2,995.1 L1883.2,994.9 L1886.2,994.8 L1889.2,994.7 L1892.2,994.6 L1895.1,994.5 L1898.1,994.4 L1901.1,994.2 L1904.1,994.1 L1907.1,994.0 L1910.1,993.9 L1913.1,993.8 L1916.1,993.7 L1919.1,993.6 L1922.1,993.4 L1925.1,993.3 L1928.1,993.2 L1931.1,993.1 L1934.1,993.0 L1937.1,992.9 L1940.1,992.8 L1943.1,992.7 L1946.1,992.6 L1949.1,992.5 L1952.1,992.4 L1955.1,992.3 L1958.1,992.3 L1961.1,992.2 L1964.1,992.1 L1967.1,992.0 L1970.1,991.9 L1973.1,991.8 L1976.1,991.8 L1979.1,991.7 L1982.1,991.6 L1985.1,991.5 L1988.0,991.5 L1991.0,991.4 L1994.0,991.3 L1997.0,991.3 L2000.0,991.2 L2003.0,991.2 L2006.0,991.1 L2009.0,991.0 L2012.0,991.0 L2015.0,991.0 L2018.0,990.9 L2021.0,990.9 L2024.0,990.8 L2027.0,990.8 L2030.0,990.8 L2033.0,990.7 L2036.0,990.7 L2039.0,990.7 L2042.0,990.7" stroke="#0000ff" stroke-width="18"/>
<path class="cv" d="M1259.8,1477.7 L1259.8,1474.7 L1259.8,1471.8 L1259.8,1468.8 L1259.8,1465.8 L1259.8,1462.8 L1259.8,1459.8 L1259.7,1456.8 L1259.7,1453.8 L1259.8,1450.9 L1259.8,1447.9 L1259.8,1444.9 L1259.8,1441.9 L1259.8,1438.9 L1259.8,1435.9 L1259.8,1432.9 L1259.8,1429.9 L1259.9,1426.9 L1259.9,1423.9 L1259.9,1420.9 L1260.0,1417.9 L1260.0,1414.9 L1260.0,1411.9 L1260.1,1408.9 L1260.1,1405.9 L1260.2,1402.9 L1260.2,1399.9 L1260.2,1396.9 L1260.3,1393.9 L1260.3,1390.9 L1260.4,1387.9 L1260.5,1384.9 L1260.5,1381.9 L1260.6,1378.9 L1260.6,1375.9 L1260.7,1372.9 L1260.8,1369.9 L1260.8,1366.9 L1260.9,1363.8 L1261.0,1360.8 L1261.0,1357.8 L1261.1,1354.8 L1261.2,1351.8 L1261.3,1348.8 L1261.3,1345.8 L1261.4,1342.8 L1261.5,1339.8 L1261.6,1336.8 L1261.7,1333.8 L1261.7,1330.8 L1261.8,1327.8 L1261.9,1324.8 L1262.0,1321.8 L1262.1,1318.8 L1262.2,1315.8 L1262.3,1312.8 L1262.4,1309.8 L1262.4,1306.8 L1262.5,1303.8 L1262.6,1300.8 L1262.7,1297.8 L1262.8,1294.7 L1262.9,1291.7 L1263.0,1288.8 L1263.1,1285.8 L1263.2,1282.8 L1263.3,1279.8 L1263.4,1276.8 L1263.5,1273.8 L1263.6,1270.8 L1263.7,1267.8 L1263.8,1264.8 L1263.9,1261.8 L1264.0,1258.8 L1264.1,1255.8 L1264.2,1252.8 L1264.3,1249.8 L1264.4,1246.8 L1264.5,1243.9 L1264.6,1240.9 L1264.7,1237.9 L1264.8,1234.9 L1264.9,1231.9 L1265.0,1228.9 L1265.1,1226.0 L1265.3,1223.0 L1265.4,1220.0 L1265.5,1217.0 L1265.6,1214.0 L1265.7,1211.1 L1265.9,1208.1 L1266.0,1205.1 L1266.2,1202.1 L1266.3,1199.1 L1266.5,1196.2 L1266.6,1193.2 L1266.8,1190.2 L1267.0,1187.2 L1267.2,1184.3 L1267.4,1181.3 L1267.7,1178.3 L1267.9,1175.3 L1268.1,1172.3 L1268.4,1169.3 L1268.7,1166.4 L1269.0,1163.4 L1269.3,1160.4 L1269.6,1157.4 L1269.9,1154.4 L1270.3,1151.4 L1270.7,1148.4 L1271.1,1145.4 L1271.5,1142.4 L1271.9,1139.4 L1272.4,1136.4 L1272.8,1133.4 L1273.3,1130.4 L1273.9,1127.4 L1274.4,1124.4 L1275.0,1121.4 L1275.6,1118.4 L1276.2,1115.4 L1276.9,1112.4 L1277.6,1109.5 L1278.3,1106.5 L1279.1,1103.6 L1280.0,1100.7 L1280.9,1097.8 L1281.8,1094.9 L1282.8,1092.1 L1283.9,1089.3 L1285.0,1086.6 L1286.2,1083.9 L1287.5,1081.2 L1288.8,1078.6 L1290.2,1076.0 L1291.7,1073.4 L1293.3,1071.0 L1294.9,1068.5 L1296.6,1066.2 L1298.4,1063.9 L1300.3,1061.6 L1302.3,1059.5 L1304.4,1057.3 L1306.5,1055.3 L1308.7,1053.3 L1311.0,1051.4 L1313.3,1049.6 L1315.7,1047.8 L1318.2,1046.1 L1320.7,1044.5 L1323.3,1043.0 L1325.9,1041.5 L1328.6,1040.2 L1331.3,1038.9 L1334.1,1037.7 L1336.9,1036.6 L1339.7,1035.5 L1342.6,1034.6 L1345.5,1033.8 L1348.4,1033.0 L1351.3,1032.3 L1354.3,1031.7 L1357.3,1031.1 L1360.2,1030.6 L1363.2,1030.2 L1366.3,1029.9 L1369.3,1029.6 L1372.3,1029.4 L1375.3,1029.3 L1378.3,1029.2 L1381.3,1029.1 L1384.3,1029.2 L1387.3,1029.2 L1390.3,1029.3 L1393.3,1029.5 L1396.3,1029.7 L1399.3,1029.9 L1402.3,1030.2 L1405.3,1030.5 L1408.3,1030.8 L1411.3,1031.2 L1414.3,1031.6 L1417.3,1032.0 L1420.2,1032.4 L1423.2,1032.8 L1426.2,1033.3 L1429.2,1033.8 L1432.1,1034.3 L1435.1,1034.7 L1438.0,1035.3 L1441.0,1035.8 L1443.9,1036.3 L1446.9,1036.8 L1449.8,1037.3 L1452.8,1037.8 L1455.7,1038.4 L1458.7,1038.9 L1461.6,1039.4 L1464.6,1039.9 L1467.5,1040.3 L1470.4,1040.8 L1473.4,1041.3 L1476.3,1041.7 L1479.3,1042.1 L1482.2,1042.6 L1485.2,1042.9 L1488.1,1043.3 L1491.1,1043.6 L1494.0,1043.9 L1497.0,1044.2 L1499.9,1044.5 L1502.9,1044.7 L1505.9,1044.9 L1508.9,1045.0 L1511.8,1045.1 L1514.8,1045.2 L1517.8,1045.2 L1520.8,1045.3 L1523.8,1045.2 L1526.7,1045.2 L1529.7,1045.1 L1532.7,1045.0 L1535.7,1044.9 L1538.7,1044.8 L1541.7,1044.6 L1544.7,1044.4 L1547.7,1044.2 L1550.7,1044.0 L1553.7,1043.8 L1556.7,1043.6 L1559.8,1043.3 L1562.8,1043.1 L1565.8,1042.8 L1568.8,1042.6 L1571.8,1042.3 L1574.8,1042.0 L1577.8,1041.7 L1580.8,1041.4 L1583.8,1041.2 L1586.8,1040.9 L1589.8,1040.6 L1592.8,1040.3 L1595.8,1040.1 L1598.8,1039.8 L1601.8,1039.6 L1604.8,1039.3 L1607.8,1039.0 L1610.8,1038.8 L1613.8,1038.5 L1616.8,1038.3 L1619.8,1038.1 L1622.8,1037.8 L1625.8,1037.6 L1628.8,1037.3 L1631.8,1037.1 L1634.8,1036.9 L1637.8,1036.6 L1640.8,1036.4 L1643.8,1036.2 L1646.8,1036.0 L1649.8,1035.7 L1652.8,1035.5 L1655.8,1035.3 L1658.8,1035.1 L1661.8,1034.9 L1664.7,1034.7 L1667.7,1034.5 L1670.7,1034.2 L1673.7,1034.0 L1676.7,1033.8 L1679.7,1033.6 L1682.7,1033.4 L1685.7,1033.2 L1688.7,1033.0 L1691.6,1032.9 L1694.6,1032.7 L1697.6,1032.5 L1700.6,1032.3 L1703.6,1032.1 L1706.6,1031.9 L1709.6,1031.7 L1712.5,1031.6 L1715.5,1031.4 L1718.5,1031.2 L1721.5,1031.0 L1724.5,1030.8 L1727.5,1030.7 L1730.5,1030.5 L1733.4,1030.3 L1736.4,1030.1 L1739.4,1030.0 L1742.4,1029.8 L1745.4,1029.6 L1748.4,1029.5 L1751.4,1029.3 L1754.3,1029.2 L1757.3,1029.0 L1760.3,1028.8 L1763.3,1028.7 L1766.3,1028.5 L1769.3,1028.3 L1772.3,1028.2 L1775.3,1028.0 L1778.2,1027.9 L1781.2,1027.7 L1784.2,1027.6 L1787.2,1027.4 L1790.2,1027.3 L1793.2,1027.1 L1796.2,1027.0 L1799.2,1026.8 L1802.2,1026.7 L1805.1,1026.5 L1808.1,1026.4 L1811.1,1026.2 L1814.1,1026.1 L1817.1,1025.9 L1820.1,1025.8 L1823.1,1025.6 L1826.1,1025.5 L1829.1,1025.3 L1832.1,1025.2 L1835.1,1025.0 L1838.1,1024.9 L1841.1,1024.7 L1844.1,1024.6 L1847.1,1024.5 L1850.1,1024.3 L1853.1,1024.2 L1856.1,1024.0 L1859.1,1023.9 L1862.1,1023.8 L1865.1,1023.6 L1868.1,1023.5 L1871.1,1023.4 L1874.1,1023.2 L1877.1,1023.1 L1880.1,1023.0 L1883.1,1022.9 L1886.1,1022.7 L1889.1,1022.6 L1892.1,1022.5 L1895.1,1022.4 L1898.1,1022.3 L1901.1,1022.2 L1904.1,1022.1 L1907.1,1022.0 L1910.1,1021.9 L1913.1,1021.8 L1916.1,1021.7 L1919.1,1021.6 L1922.1,1021.5 L1925.1,1021.4 L1928.1,1021.3 L1931.1,1021.3 L1934.1,1021.2 L1937.1,1021.1 L1940.1,1021.1 L1943.1,1021.0 L1946.1,1020.9 L1949.1,1020.9 L1952.1,1020.8 L1955.1,1020.8 L1958.1,1020.8 L1961.1,1020.7 L1964.1,1020.7 L1967.1,1020.7 L1970.1,1020.6 L1973.1,1020.6 L1976.1,1020.6 L1979.1,1020.6 L1982.1,1020.6 L1985.1,1020.6 L1988.1,1020.6 L1991.1,1020.6 L1994.1,1020.7 L1997.1,1020.7 L2000.1,1020.7 L2003.1,1020.7 L2006.1,1020.8 L2009.1,1020.8 L2012.1,1020.9 L2015.1,1021.0 L2018.1,1021.0 L2021.0,1021.1 L2024.0,1021.2 L2027.0,1021.3 L2030.0,1021.4 L2033.0,1021.5 L2036.0,1021.6 L2039.0,1021.7 L2042.0,1021.8" stroke="#ff00ff" stroke-width="18"/>
</g>
<rect class="ax" x="1229" y="895.2" width="804.8" height="657.6"/>
<path class="ax" style="stroke-linecap:round" d="M1259.95,1553.8 v11.6 M1414.72,1553.8 v11.6 M1569.49,1553.8 v11.6 M1724.26,1553.8 v11.6 M1879.03,1553.8 v11.6 M2033.8,1553.8 v11.6 M1337.34,1553.8 v5.9 M1492.11,1553.8 v5.9 M1646.88,1553.8 v5.9 M1801.65,1553.8 v5.9 M1956.42,1553.8 v5.9 M1228,895.2 h-11.6 M1228,1026.72 h-11.6 M1228,1158.24 h-11.6 M1228,1289.76 h-11.6 M1228,1421.28 h-11.6 M1228,1552.8 h-11.6 M1228,1487.04 h-5.9 M1228,1355.52 h-5.9 M1228,1224 h-5.9 M1228,1092.48 h-5.9 M1228,960.96 h-5.9"/>
<g class="tk" text-anchor="middle">
<text transform="translate(1259.95,1613.5) scale(0.99,1.03)">0</text>
<text transform="translate(1414.72,1613.5) scale(0.99,1.03)">50</text>
<text transform="translate(1569.49,1613.5) scale(0.99,1.03)">100</text>
<text transform="translate(1724.26,1613.5) scale(0.99,1.03)">150</text>
<text transform="translate(1879.03,1613.5) scale(0.99,1.03)">200</text>
<text transform="translate(2033.8,1613.5) scale(0.99,1.03)">250</text>
</g>
<g class="tk" text-anchor="end">
<text transform="translate(1208,910.9) scale(0.99,1.03)">0</text>
<text transform="translate(1208,1042.42) scale(0.99,1.03)">-10</text>
<text transform="translate(1208,1173.94) scale(0.99,1.03)">-20</text>
<text transform="translate(1208,1305.46) scale(0.99,1.03)">-30</text>
<text transform="translate(1208,1436.98) scale(0.99,1.03)">-40</text>
<text transform="translate(1208,1568.5) scale(0.99,1.03)">-50</text>
</g>
<text class="tt" text-anchor="middle" transform="translate(1631.5,1681.8) scale(0.993,1.01)">Time / s</text>
<text class="tt" text-anchor="middle" transform="translate(1116.3,1235) rotate(-90) scale(1.004,1.03)">Current / <tspan class="mu" dx="-4.6" textLength="45" lengthAdjust="spacingAndGlyphs">μ</tspan><tspan dx="-2.9">A</tspan></text>
<text class="pl" transform="translate(1415,1449) scale(1.0,1.0)">d<tspan class="pr">)</tspan></text>
</g>
</svg>
</body>
</html>
